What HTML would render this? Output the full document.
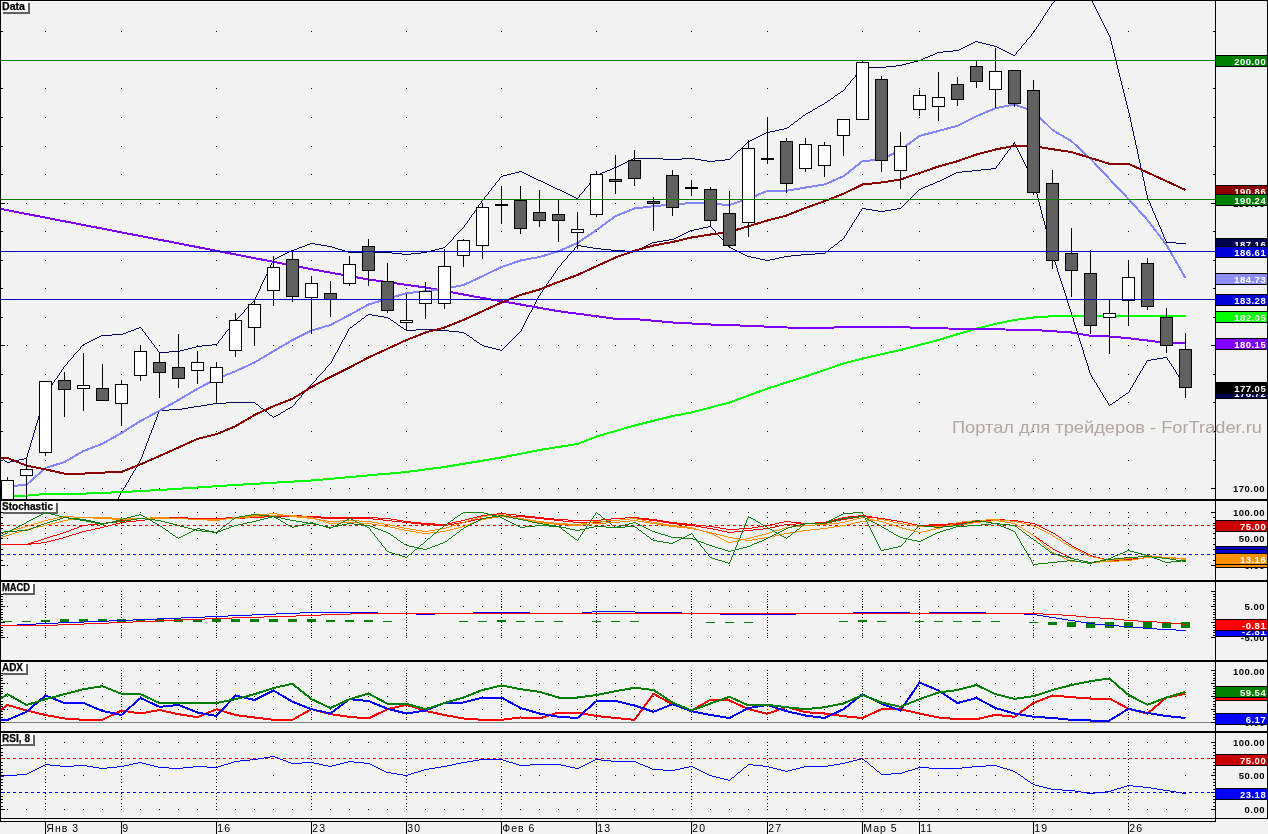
<!DOCTYPE html>
<html><head><meta charset="utf-8"><title>Chart</title>
<style>html,body{margin:0;padding:0;background:#f2f2f2;overflow:hidden}svg{display:block;will-change:transform}</style>
</head><body>
<svg width="1268" height="834" viewBox="0 0 1268 834" shape-rendering="crispEdges" text-rendering="optimizeLegibility">
<defs>
<clipPath id="cm"><rect x="1" y="1" width="1214" height="498"/></clipPath>
<clipPath id="cs"><rect x="1" y="501" width="1214" height="79"/></clipPath>
<clipPath id="cd"><rect x="1" y="582" width="1214" height="78"/></clipPath>
<clipPath id="ca"><rect x="1" y="662" width="1214" height="69"/></clipPath>
<clipPath id="cr"><rect x="1" y="733" width="1214" height="85"/></clipPath>
</defs>
<path d="M45 31.5h1M121 31.5h1M216 31.5h1M311 31.5h1M406 31.5h1M501 31.5h1M596 31.5h1M691 31.5h1M767 31.5h1M862 31.5h1M919 31.5h1M1033 31.5h1M1128 31.5h1M7 60.5h1M26 60.5h1M45 60.5h1M64 60.5h1M83 60.5h1M102 60.5h1M121 60.5h1M140 60.5h1M159 60.5h1M178 60.5h1M197 60.5h1M216 60.5h1M235 60.5h1M254 60.5h1M273 60.5h1M292 60.5h1M311 60.5h1M330 60.5h1M349 60.5h1M368 60.5h1M387 60.5h1M406 60.5h1M425 60.5h1M444 60.5h1M463 60.5h1M482 60.5h1M501 60.5h1M520 60.5h1M539 60.5h1M558 60.5h1M577 60.5h1M596 60.5h1M615 60.5h1M634 60.5h1M653 60.5h1M672 60.5h1M691 60.5h1M710 60.5h1M729 60.5h1M748 60.5h1M767 60.5h1M786 60.5h1M805 60.5h1M824 60.5h1M843 60.5h1M862 60.5h1M881 60.5h1M900 60.5h1M919 60.5h1M938 60.5h1M957 60.5h1M976 60.5h1M995 60.5h1M1014 60.5h1M1033 60.5h1M1052 60.5h1M1071 60.5h1M1090 60.5h1M1109 60.5h1M1128 60.5h1M1147 60.5h1M1166 60.5h1M1185 60.5h1M45 88.5h1M121 88.5h1M216 88.5h1M311 88.5h1M406 88.5h1M501 88.5h1M596 88.5h1M691 88.5h1M767 88.5h1M862 88.5h1M919 88.5h1M1033 88.5h1M1128 88.5h1M45 117.5h1M121 117.5h1M216 117.5h1M311 117.5h1M406 117.5h1M501 117.5h1M596 117.5h1M691 117.5h1M767 117.5h1M862 117.5h1M919 117.5h1M1033 117.5h1M1128 117.5h1M45 146.5h1M121 146.5h1M216 146.5h1M311 146.5h1M406 146.5h1M501 146.5h1M596 146.5h1M691 146.5h1M767 146.5h1M862 146.5h1M919 146.5h1M1033 146.5h1M1128 146.5h1M45 174.5h1M121 174.5h1M216 174.5h1M311 174.5h1M406 174.5h1M501 174.5h1M596 174.5h1M691 174.5h1M767 174.5h1M862 174.5h1M919 174.5h1M1033 174.5h1M1128 174.5h1M7 203.5h1M26 203.5h1M45 203.5h1M64 203.5h1M83 203.5h1M102 203.5h1M121 203.5h1M140 203.5h1M159 203.5h1M178 203.5h1M197 203.5h1M216 203.5h1M235 203.5h1M254 203.5h1M273 203.5h1M292 203.5h1M311 203.5h1M330 203.5h1M349 203.5h1M368 203.5h1M387 203.5h1M406 203.5h1M425 203.5h1M444 203.5h1M463 203.5h1M482 203.5h1M501 203.5h1M520 203.5h1M539 203.5h1M558 203.5h1M577 203.5h1M596 203.5h1M615 203.5h1M634 203.5h1M653 203.5h1M672 203.5h1M691 203.5h1M710 203.5h1M729 203.5h1M748 203.5h1M767 203.5h1M786 203.5h1M805 203.5h1M824 203.5h1M843 203.5h1M862 203.5h1M881 203.5h1M900 203.5h1M919 203.5h1M938 203.5h1M957 203.5h1M976 203.5h1M995 203.5h1M1014 203.5h1M1033 203.5h1M1052 203.5h1M1071 203.5h1M1090 203.5h1M1109 203.5h1M1128 203.5h1M1147 203.5h1M1166 203.5h1M1185 203.5h1M45 231.5h1M121 231.5h1M216 231.5h1M311 231.5h1M406 231.5h1M501 231.5h1M596 231.5h1M691 231.5h1M767 231.5h1M862 231.5h1M919 231.5h1M1033 231.5h1M1128 231.5h1M45 260.5h1M121 260.5h1M216 260.5h1M311 260.5h1M406 260.5h1M501 260.5h1M596 260.5h1M691 260.5h1M767 260.5h1M862 260.5h1M919 260.5h1M1033 260.5h1M1128 260.5h1M45 288.5h1M121 288.5h1M216 288.5h1M311 288.5h1M406 288.5h1M501 288.5h1M596 288.5h1M691 288.5h1M767 288.5h1M862 288.5h1M919 288.5h1M1033 288.5h1M1128 288.5h1M45 317.5h1M121 317.5h1M216 317.5h1M311 317.5h1M406 317.5h1M501 317.5h1M596 317.5h1M691 317.5h1M767 317.5h1M862 317.5h1M919 317.5h1M1033 317.5h1M1128 317.5h1M7 345.5h1M26 345.5h1M45 345.5h1M64 345.5h1M83 345.5h1M102 345.5h1M121 345.5h1M140 345.5h1M159 345.5h1M178 345.5h1M197 345.5h1M216 345.5h1M235 345.5h1M254 345.5h1M273 345.5h1M292 345.5h1M311 345.5h1M330 345.5h1M349 345.5h1M368 345.5h1M387 345.5h1M406 345.5h1M425 345.5h1M444 345.5h1M463 345.5h1M482 345.5h1M501 345.5h1M520 345.5h1M539 345.5h1M558 345.5h1M577 345.5h1M596 345.5h1M615 345.5h1M634 345.5h1M653 345.5h1M672 345.5h1M691 345.5h1M710 345.5h1M729 345.5h1M748 345.5h1M767 345.5h1M786 345.5h1M805 345.5h1M824 345.5h1M843 345.5h1M862 345.5h1M881 345.5h1M900 345.5h1M919 345.5h1M938 345.5h1M957 345.5h1M976 345.5h1M995 345.5h1M1014 345.5h1M1033 345.5h1M1052 345.5h1M1071 345.5h1M1090 345.5h1M1109 345.5h1M1128 345.5h1M1147 345.5h1M1166 345.5h1M1185 345.5h1M45 374.5h1M121 374.5h1M216 374.5h1M311 374.5h1M406 374.5h1M501 374.5h1M596 374.5h1M691 374.5h1M767 374.5h1M862 374.5h1M919 374.5h1M1033 374.5h1M1128 374.5h1M45 402.5h1M121 402.5h1M216 402.5h1M311 402.5h1M406 402.5h1M501 402.5h1M596 402.5h1M691 402.5h1M767 402.5h1M862 402.5h1M919 402.5h1M1033 402.5h1M1128 402.5h1M45 431.5h1M121 431.5h1M216 431.5h1M311 431.5h1M406 431.5h1M501 431.5h1M596 431.5h1M691 431.5h1M767 431.5h1M862 431.5h1M919 431.5h1M1033 431.5h1M1128 431.5h1M45 460.5h1M121 460.5h1M216 460.5h1M311 460.5h1M406 460.5h1M501 460.5h1M596 460.5h1M691 460.5h1M767 460.5h1M862 460.5h1M919 460.5h1M1033 460.5h1M1128 460.5h1M7 488.5h1M26 488.5h1M45 488.5h1M64 488.5h1M83 488.5h1M102 488.5h1M121 488.5h1M140 488.5h1M159 488.5h1M178 488.5h1M197 488.5h1M216 488.5h1M235 488.5h1M254 488.5h1M273 488.5h1M292 488.5h1M311 488.5h1M330 488.5h1M349 488.5h1M368 488.5h1M387 488.5h1M406 488.5h1M425 488.5h1M444 488.5h1M463 488.5h1M482 488.5h1M501 488.5h1M520 488.5h1M539 488.5h1M558 488.5h1M577 488.5h1M596 488.5h1M615 488.5h1M634 488.5h1M653 488.5h1M672 488.5h1M691 488.5h1M710 488.5h1M729 488.5h1M748 488.5h1M767 488.5h1M786 488.5h1M805 488.5h1M824 488.5h1M843 488.5h1M862 488.5h1M881 488.5h1M900 488.5h1M919 488.5h1M938 488.5h1M957 488.5h1M976 488.5h1M995 488.5h1M1014 488.5h1M1033 488.5h1M1052 488.5h1M1071 488.5h1M1090 488.5h1M1109 488.5h1M1128 488.5h1M1147 488.5h1M1166 488.5h1M1185 488.5h1" stroke="#000" stroke-width="1" fill="none"/>
<line x1="1" y1="31.5" x2="3" y2="31.5" stroke="#000" stroke-width="1"/>
<line x1="1213" y1="31.5" x2="1215" y2="31.5" stroke="#000" stroke-width="1"/>
<line x1="1" y1="60.5" x2="5" y2="60.5" stroke="#000" stroke-width="1"/>
<line x1="1211" y1="60.5" x2="1215" y2="60.5" stroke="#000" stroke-width="1"/>
<line x1="1" y1="88.5" x2="3" y2="88.5" stroke="#000" stroke-width="1"/>
<line x1="1213" y1="88.5" x2="1215" y2="88.5" stroke="#000" stroke-width="1"/>
<line x1="1" y1="117.5" x2="3" y2="117.5" stroke="#000" stroke-width="1"/>
<line x1="1213" y1="117.5" x2="1215" y2="117.5" stroke="#000" stroke-width="1"/>
<line x1="1" y1="146.5" x2="3" y2="146.5" stroke="#000" stroke-width="1"/>
<line x1="1213" y1="146.5" x2="1215" y2="146.5" stroke="#000" stroke-width="1"/>
<line x1="1" y1="174.5" x2="3" y2="174.5" stroke="#000" stroke-width="1"/>
<line x1="1213" y1="174.5" x2="1215" y2="174.5" stroke="#000" stroke-width="1"/>
<line x1="1" y1="203.5" x2="5" y2="203.5" stroke="#000" stroke-width="1"/>
<line x1="1211" y1="203.5" x2="1215" y2="203.5" stroke="#000" stroke-width="1"/>
<line x1="1" y1="231.5" x2="3" y2="231.5" stroke="#000" stroke-width="1"/>
<line x1="1213" y1="231.5" x2="1215" y2="231.5" stroke="#000" stroke-width="1"/>
<line x1="1" y1="260.5" x2="3" y2="260.5" stroke="#000" stroke-width="1"/>
<line x1="1213" y1="260.5" x2="1215" y2="260.5" stroke="#000" stroke-width="1"/>
<line x1="1" y1="288.5" x2="3" y2="288.5" stroke="#000" stroke-width="1"/>
<line x1="1213" y1="288.5" x2="1215" y2="288.5" stroke="#000" stroke-width="1"/>
<line x1="1" y1="317.5" x2="3" y2="317.5" stroke="#000" stroke-width="1"/>
<line x1="1213" y1="317.5" x2="1215" y2="317.5" stroke="#000" stroke-width="1"/>
<line x1="1" y1="345.5" x2="5" y2="345.5" stroke="#000" stroke-width="1"/>
<line x1="1211" y1="345.5" x2="1215" y2="345.5" stroke="#000" stroke-width="1"/>
<line x1="1" y1="374.5" x2="3" y2="374.5" stroke="#000" stroke-width="1"/>
<line x1="1213" y1="374.5" x2="1215" y2="374.5" stroke="#000" stroke-width="1"/>
<line x1="1" y1="402.5" x2="3" y2="402.5" stroke="#000" stroke-width="1"/>
<line x1="1213" y1="402.5" x2="1215" y2="402.5" stroke="#000" stroke-width="1"/>
<line x1="1" y1="431.5" x2="3" y2="431.5" stroke="#000" stroke-width="1"/>
<line x1="1213" y1="431.5" x2="1215" y2="431.5" stroke="#000" stroke-width="1"/>
<line x1="1" y1="460.5" x2="3" y2="460.5" stroke="#000" stroke-width="1"/>
<line x1="1213" y1="460.5" x2="1215" y2="460.5" stroke="#000" stroke-width="1"/>
<line x1="1" y1="488.5" x2="5" y2="488.5" stroke="#000" stroke-width="1"/>
<line x1="1211" y1="488.5" x2="1215" y2="488.5" stroke="#000" stroke-width="1"/>
<g clip-path="url(#cm)">
<path d="M1054 1.5h1M1092 1.5h1M1053 2.5h1M1092 2.5h1M1052 3.5h1M1093 3.5h1M1051 4.5h1M1093 4.5h1M1051 5.5h1M1094 5.5h1M1050 6.5h1M1094 6.5h1M1049 7.5h1M1095 7.5h1M1049 8.5h1M1095 8.5h1M1048 9.5h1M1096 9.5h1M1047 10.5h1M1096 10.5h1M1047 11.5h1M1097 11.5h1M1046 12.5h1M1097 12.5h1M1045 13.5h1M1098 13.5h1M1045 14.5h1M1098 14.5h1M1044 15.5h1M1099 15.5h1M1043 16.5h1M1099 16.5h1M1043 17.5h1M1100 17.5h1M1042 18.5h1M1100 18.5h1M1042 19.5h1M1101 19.5h1M1041 20.5h1M1101 20.5h1M1040 21.5h1M1102 21.5h1M1040 22.5h1M1102 22.5h1M1039 23.5h1M1103 23.5h1M1038 24.5h1M1103 24.5h1M1038 25.5h1M1104 25.5h1M1037 26.5h1M1104 26.5h1M1036 27.5h1M1105 27.5h1M1036 28.5h1M1105 28.5h1M1035 29.5h1M1106 29.5h1M1034 30.5h1M1106 30.5h1M1034 31.5h1M1107 31.5h1M1033 32.5h1M1107 32.5h1M1032 33.5h1M1108 33.5h1M1031 34.5h1M1108 34.5h1M1031 35.5h1M1109 35.5h1M1030 36.5h1M1109 36.5h1M1029 37.5h1M1110 37.5h1M1028 38.5h1M1110 38.5h1M1027 39.5h1M1110 39.5h1M1026 40.5h1M1110 40.5h1M975 41.5h3M1026 41.5h1M1111 41.5h1M973 42.5h2M978 42.5h4M1025 42.5h1M1111 42.5h1M971 43.5h2M982 43.5h4M1024 43.5h1M1111 43.5h1M969 44.5h2M986 44.5h4M1023 44.5h1M1111 44.5h1M967 45.5h2M990 45.5h4M1022 45.5h1M1112 45.5h1M965 46.5h2M994 46.5h3M1021 46.5h1M1112 46.5h1M963 47.5h2M997 47.5h2M1021 47.5h1M1112 47.5h1M961 48.5h2M999 48.5h2M1020 48.5h1M1112 48.5h1M959 49.5h2M1001 49.5h2M1019 49.5h1M1113 49.5h1M953 50.5h6M1003 50.5h2M1018 50.5h1M1113 50.5h1M943 51.5h10M1005 51.5h2M1017 51.5h1M1113 51.5h1M937 52.5h6M1007 52.5h2M1016 52.5h1M1113 52.5h1M935 53.5h2M1009 53.5h2M1016 53.5h1M1114 53.5h1M933 54.5h2M1011 54.5h2M1015 54.5h1M1114 54.5h1M930 55.5h3M1013 55.5h2M1114 55.5h1M928 56.5h2M1114 56.5h1M925 57.5h3M1115 57.5h1M923 58.5h2M1115 58.5h1M921 59.5h2M1115 59.5h1M918 60.5h3M1115 60.5h1M914 61.5h4M1116 61.5h1M910 62.5h4M1116 62.5h1M906 63.5h4M1116 63.5h1M902 64.5h4M1116 64.5h1M896 65.5h6M1117 65.5h1M886 66.5h10M1117 66.5h1M862 67.5h24M1117 67.5h1M861 68.5h1M1117 68.5h1M860 69.5h1M1118 69.5h1M860 70.5h1M1118 70.5h1M859 71.5h1M1118 71.5h1M858 72.5h1M1118 72.5h1M857 73.5h1M1119 73.5h1M856 74.5h1M1119 74.5h1M855 75.5h1M1119 75.5h1M855 76.5h1M1119 76.5h1M854 77.5h1M1120 77.5h1M853 78.5h1M1120 78.5h1M852 79.5h1M1120 79.5h1M851 80.5h1M1120 80.5h1M850 81.5h1M1121 81.5h1M850 82.5h1M1121 82.5h1M849 83.5h1M1121 83.5h1M848 84.5h1M1121 84.5h1M847 85.5h1M1122 85.5h1M846 86.5h1M1122 86.5h1M845 87.5h1M1122 87.5h1M845 88.5h1M1122 88.5h1M844 89.5h1M1123 89.5h1M843 90.5h1M1123 90.5h1M841 91.5h2M1123 91.5h1M840 92.5h1M1123 92.5h1M838 93.5h2M1124 93.5h1M837 94.5h1M1124 94.5h1M835 95.5h2M1124 95.5h1M834 96.5h1M1124 96.5h1M833 97.5h1M1125 97.5h1M831 98.5h2M1125 98.5h1M830 99.5h1M1125 99.5h1M828 100.5h2M1125 100.5h1M827 101.5h1M1126 101.5h1M825 102.5h2M1126 102.5h1M824 103.5h1M1126 103.5h1M822 104.5h2M1126 104.5h1M820 105.5h2M1127 105.5h1M818 106.5h2M1127 106.5h1M817 107.5h1M1127 107.5h1M815 108.5h2M1127 108.5h1M813 109.5h2M1128 109.5h1M812 110.5h1M1128 110.5h1M810 111.5h2M1128 111.5h1M808 112.5h2M1128 112.5h1M806 113.5h2M1129 113.5h1M805 114.5h1M1129 114.5h1M803 115.5h2M1129 115.5h1M802 116.5h1M1129 116.5h1M801 117.5h1M1130 117.5h1M799 118.5h2M1130 118.5h1M798 119.5h1M1130 119.5h1M797 120.5h1M1130 120.5h1M795 121.5h2M1130 121.5h1M794 122.5h1M1131 122.5h1M793 123.5h1M1131 123.5h1M791 124.5h2M1131 124.5h1M790 125.5h1M1131 125.5h1M789 126.5h1M1131 126.5h1M787 127.5h2M1132 127.5h1M784 128.5h3M1132 128.5h1M779 129.5h5M1132 129.5h1M775 130.5h4M1132 130.5h1M770 131.5h5M1133 131.5h1M766 132.5h4M1133 132.5h1M764 133.5h2M1133 133.5h1M762 134.5h2M1133 134.5h1M760 135.5h2M1133 135.5h1M758 136.5h2M1134 136.5h1M756 137.5h2M1134 137.5h1M754 138.5h2M1134 138.5h1M752 139.5h2M1134 139.5h1M750 140.5h2M1135 140.5h1M748 141.5h2M1135 141.5h1M747 142.5h1M1135 142.5h1M746 143.5h1M1135 143.5h1M745 144.5h1M1135 144.5h1M744 145.5h1M1136 145.5h1M743 146.5h1M1136 146.5h1M742 147.5h1M1136 147.5h1M741 148.5h1M1136 148.5h1M740 149.5h1M1137 149.5h1M738 150.5h2M1137 150.5h1M737 151.5h1M1137 151.5h1M736 152.5h1M1137 152.5h1M735 153.5h1M1137 153.5h1M734 154.5h1M1138 154.5h1M733 155.5h1M1138 155.5h1M732 156.5h1M1138 156.5h1M731 157.5h1M1138 157.5h1M633 158.5h30M682 158.5h13M730 158.5h1M1138 158.5h1M631 159.5h2M663 159.5h19M695 159.5h6M725 159.5h5M1139 159.5h1M629 160.5h2M701 160.5h6M715 160.5h10M1139 160.5h1M627 161.5h2M707 161.5h8M1139 161.5h1M625 162.5h2M1139 162.5h1M623 163.5h2M1140 163.5h1M621 164.5h2M1140 164.5h1M619 165.5h2M1140 165.5h1M617 166.5h2M1140 166.5h1M614 167.5h3M1140 167.5h1M612 168.5h2M1141 168.5h1M610 169.5h2M1141 169.5h1M607 170.5h3M1141 170.5h1M519 171.5h3M605 171.5h2M1141 171.5h1M515 172.5h4M522 172.5h2M602 172.5h3M1142 172.5h1M511 173.5h4M524 173.5h2M600 173.5h2M1142 173.5h1M507 174.5h4M526 174.5h2M598 174.5h2M1142 174.5h1M503 175.5h4M528 175.5h2M596 175.5h2M1142 175.5h1M501 176.5h2M530 176.5h2M595 176.5h1M1142 176.5h1M500 177.5h1M532 177.5h2M594 177.5h1M1143 177.5h1M499 178.5h1M534 178.5h2M594 178.5h1M1143 178.5h1M499 179.5h1M536 179.5h2M593 179.5h1M1143 179.5h1M498 180.5h1M538 180.5h3M592 180.5h1M1143 180.5h1M497 181.5h1M541 181.5h2M591 181.5h1M1144 181.5h1M496 182.5h1M543 182.5h2M590 182.5h1M1144 182.5h1M495 183.5h1M545 183.5h2M589 183.5h1M1144 183.5h1M495 184.5h1M547 184.5h2M589 184.5h1M1144 184.5h1M494 185.5h1M549 185.5h2M588 185.5h1M1144 185.5h1M493 186.5h1M551 186.5h2M587 186.5h1M1145 186.5h1M492 187.5h1M553 187.5h2M586 187.5h1M1145 187.5h1M491 188.5h1M555 188.5h2M585 188.5h1M1145 188.5h1M491 189.5h1M557 189.5h3M584 189.5h1M1145 189.5h1M490 190.5h1M560 190.5h2M584 190.5h1M1145 190.5h1M489 191.5h1M562 191.5h2M583 191.5h1M1146 191.5h1M488 192.5h1M564 192.5h2M582 192.5h1M1146 192.5h1M488 193.5h1M566 193.5h2M581 193.5h1M1146 193.5h1M487 194.5h1M568 194.5h2M580 194.5h1M1146 194.5h1M486 195.5h1M570 195.5h2M579 195.5h1M1147 195.5h1M485 196.5h1M572 196.5h2M579 196.5h1M1147 196.5h1M484 197.5h1M574 197.5h2M578 197.5h1M1147 197.5h1M484 198.5h1M576 198.5h2M1147 198.5h1M483 199.5h1M1148 199.5h1M482 200.5h1M1148 200.5h1M481 201.5h1M1149 201.5h1M481 202.5h1M1149 202.5h1M480 203.5h1M1150 203.5h1M479 204.5h1M1150 204.5h1M478 205.5h1M1150 205.5h1M478 206.5h1M1151 206.5h1M477 207.5h1M1151 207.5h1M476 208.5h1M1152 208.5h1M476 209.5h1M1152 209.5h1M475 210.5h1M1152 210.5h1M474 211.5h1M1153 211.5h1M474 212.5h1M1153 212.5h1M473 213.5h1M1154 213.5h1M472 214.5h1M1154 214.5h1M471 215.5h1M1155 215.5h1M471 216.5h1M1155 216.5h1M470 217.5h1M1155 217.5h1M469 218.5h1M1156 218.5h1M469 219.5h1M1156 219.5h1M468 220.5h1M1157 220.5h1M467 221.5h1M1157 221.5h1M467 222.5h1M1158 222.5h1M466 223.5h1M1158 223.5h1M465 224.5h1M1158 224.5h1M464 225.5h1M1159 225.5h1M464 226.5h1M1159 226.5h1M463 227.5h1M1160 227.5h1M462 228.5h1M1160 228.5h1M461 229.5h1M1161 229.5h1M460 230.5h1M1161 230.5h1M459 231.5h1M1161 231.5h1M458 232.5h1M1162 232.5h1M457 233.5h1M1162 233.5h1M456 234.5h1M1163 234.5h1M455 235.5h1M1163 235.5h1M454 236.5h1M1163 236.5h1M453 237.5h1M1164 237.5h1M453 238.5h1M1164 238.5h1M452 239.5h1M1165 239.5h1M451 240.5h1M1165 240.5h1M450 241.5h1M1166 241.5h1M449 242.5h1M1166 242.5h10M310 243.5h5M448 243.5h1M1176 243.5h10M307 244.5h3M315 244.5h6M447 244.5h1M305 245.5h2M321 245.5h6M446 245.5h1M302 246.5h3M327 246.5h5M445 246.5h1M299 247.5h3M332 247.5h3M443 247.5h2M297 248.5h2M335 248.5h3M439 248.5h4M294 249.5h3M338 249.5h4M435 249.5h4M291 250.5h3M342 250.5h3M431 250.5h4M289 251.5h2M345 251.5h3M427 251.5h4M287 252.5h2M348 252.5h44M421 252.5h6M285 253.5h2M392 253.5h10M411 253.5h10M283 254.5h2M402 254.5h9M281 255.5h2M279 256.5h2M277 257.5h2M275 258.5h2M273 259.5h2M273 260.5h1M272 261.5h1M272 262.5h1M271 263.5h1M271 264.5h1M270 265.5h1M270 266.5h1M269 267.5h1M269 268.5h1M268 269.5h1M268 270.5h1M267 271.5h1M267 272.5h1M267 273.5h1M266 274.5h1M266 275.5h1M265 276.5h1M265 277.5h1M264 278.5h1M264 279.5h1M263 280.5h1M263 281.5h1M262 282.5h1M262 283.5h1M261 284.5h1M261 285.5h1M260 286.5h1M260 287.5h1M260 288.5h1M259 289.5h1M259 290.5h1M258 291.5h1M258 292.5h1M257 293.5h1M257 294.5h1M256 295.5h1M256 296.5h1M255 297.5h1M255 298.5h1M254 299.5h1M254 300.5h1M253 301.5h1M252 302.5h1M251 303.5h1M250 304.5h1M249 305.5h1M248 306.5h1M247 307.5h1M246 308.5h1M245 309.5h1M244 310.5h1M244 311.5h1M243 312.5h1M242 313.5h1M241 314.5h1M240 315.5h1M239 316.5h1M238 317.5h1M237 318.5h1M236 319.5h1M235 320.5h1M234 321.5h1M233 322.5h1M233 323.5h1M232 324.5h1M231 325.5h1M230 326.5h1M139 327.5h2M229 327.5h1M136 328.5h3M141 328.5h1M229 328.5h1M134 329.5h2M142 329.5h1M228 329.5h1M131 330.5h3M142 330.5h1M227 330.5h1M128 331.5h3M143 331.5h1M226 331.5h1M126 332.5h2M144 332.5h1M225 332.5h1M123 333.5h3M145 333.5h1M225 333.5h1M112 334.5h11M145 334.5h1M224 334.5h1M101 335.5h11M146 335.5h1M223 335.5h1M99 336.5h2M147 336.5h1M222 336.5h1M97 337.5h2M148 337.5h1M222 337.5h1M95 338.5h2M148 338.5h1M221 338.5h1M93 339.5h2M149 339.5h1M220 339.5h1M91 340.5h2M150 340.5h1M219 340.5h1M89 341.5h2M151 341.5h1M218 341.5h1M87 342.5h2M151 342.5h1M218 342.5h1M85 343.5h2M152 343.5h1M217 343.5h1M83 344.5h2M153 344.5h1M212 344.5h5M82 345.5h1M154 345.5h1M202 345.5h10M81 346.5h1M154 346.5h1M196 346.5h6M80 347.5h1M155 347.5h1M192 347.5h4M80 348.5h1M156 348.5h1M188 348.5h4M79 349.5h1M157 349.5h1M184 349.5h4M78 350.5h1M157 350.5h1M180 350.5h4M77 351.5h1M158 351.5h1M169 351.5h11M76 352.5h1M159 352.5h10M75 353.5h1M74 354.5h1M73 355.5h1M73 356.5h1M72 357.5h1M71 358.5h1M70 359.5h1M69 360.5h1M68 361.5h1M67 362.5h1M67 363.5h1M66 364.5h1M65 365.5h1M64 366.5h1M63 367.5h1M63 368.5h1M62 369.5h1M61 370.5h1M61 371.5h1M60 372.5h1M59 373.5h1M59 374.5h1M58 375.5h1M57 376.5h1M57 377.5h1M56 378.5h1M55 379.5h1M54 380.5h1M54 381.5h1M53 382.5h1M52 383.5h1M52 384.5h1M51 385.5h1M50 386.5h1M50 387.5h1M49 388.5h1M48 389.5h1M48 390.5h1M47 391.5h1M46 392.5h1M46 393.5h1M45 394.5h1M45 395.5h1M44 396.5h1M44 397.5h1M44 398.5h1M44 399.5h1M43 400.5h1M43 401.5h1M43 402.5h1M42 403.5h1M42 404.5h1M42 405.5h1M41 406.5h1M41 407.5h1M41 408.5h1M41 409.5h1M40 410.5h1M40 411.5h1M40 412.5h1M39 413.5h1M39 414.5h1M39 415.5h1M38 416.5h1M38 417.5h1M38 418.5h1M38 419.5h1M37 420.5h1M37 421.5h1M37 422.5h1M36 423.5h1M36 424.5h1M36 425.5h1M35 426.5h1M35 427.5h1M35 428.5h1M35 429.5h1M34 430.5h1M34 431.5h1M34 432.5h1M33 433.5h1M33 434.5h1M33 435.5h1M33 436.5h1M32 437.5h1M32 438.5h1M32 439.5h1M31 440.5h1M31 441.5h1M31 442.5h1M30 443.5h1M30 444.5h1M30 445.5h1M30 446.5h1M29 447.5h1M29 448.5h1M29 449.5h1M28 450.5h1M28 451.5h1M28 452.5h1M27 453.5h1M27 454.5h1M27 455.5h1M27 456.5h1M26 457.5h1M1 458.5h2M24 458.5h3M3 459.5h1M19 459.5h5M4 460.5h1M15 460.5h4M5 461.5h2M10 461.5h5M7 462.5h3" stroke="#00005a" stroke-width="1" fill="none"/>
<path d="M1014 142.5h1M1013 143.5h2M1013 144.5h1M1015 144.5h1M1012 145.5h1M1015 145.5h1M1011 146.5h1M1016 146.5h1M1010 147.5h1M1016 147.5h1M1010 148.5h1M1017 148.5h1M1009 149.5h1M1017 149.5h1M1008 150.5h1M1018 150.5h1M1007 151.5h1M1018 151.5h1M1007 152.5h1M1019 152.5h1M1006 153.5h1M1019 153.5h1M1005 154.5h1M1020 154.5h1M1004 155.5h1M1020 155.5h1M1004 156.5h1M1021 156.5h1M1003 157.5h1M1021 157.5h1M1002 158.5h1M1022 158.5h1M1002 159.5h1M1022 159.5h1M1001 160.5h1M1023 160.5h1M1000 161.5h1M1023 161.5h1M999 162.5h1M1024 162.5h1M999 163.5h1M1024 163.5h1M998 164.5h1M1025 164.5h1M997 165.5h1M1025 165.5h1M996 166.5h1M1026 166.5h1M996 167.5h1M1026 167.5h1M991 168.5h5M1027 168.5h1M981 169.5h10M1027 169.5h1M972 170.5h9M1028 170.5h1M962 171.5h10M1028 171.5h1M956 172.5h6M1029 172.5h1M954 173.5h2M1029 173.5h1M952 174.5h2M1030 174.5h1M950 175.5h2M1030 175.5h1M948 176.5h2M1031 176.5h1M946 177.5h2M1031 177.5h1M944 178.5h2M1032 178.5h1M942 179.5h2M1032 179.5h1M940 180.5h2M1033 180.5h1M937 181.5h3M1033 181.5h1M935 182.5h2M1034 182.5h1M933 183.5h2M1034 183.5h1M930 184.5h3M1034 184.5h1M928 185.5h2M1034 185.5h1M925 186.5h3M1035 186.5h1M923 187.5h2M1035 187.5h1M921 188.5h2M1035 188.5h1M919 189.5h2M1035 189.5h1M918 190.5h1M1036 190.5h1M917 191.5h1M1036 191.5h1M916 192.5h1M1036 192.5h1M915 193.5h1M1036 193.5h1M914 194.5h1M1037 194.5h1M913 195.5h1M1037 195.5h1M912 196.5h1M1037 196.5h1M911 197.5h1M1037 197.5h1M910 198.5h1M1038 198.5h1M909 199.5h1M1038 199.5h1M908 200.5h1M1038 200.5h1M907 201.5h1M1038 201.5h1M906 202.5h1M1039 202.5h1M905 203.5h1M1039 203.5h1M904 204.5h1M1039 204.5h1M903 205.5h1M1039 205.5h1M902 206.5h1M1040 206.5h1M901 207.5h1M1040 207.5h1M862 208.5h4M897 208.5h4M1040 208.5h1M861 209.5h1M866 209.5h6M891 209.5h6M1040 209.5h1M861 210.5h1M872 210.5h6M885 210.5h6M1041 210.5h1M860 211.5h1M878 211.5h7M1041 211.5h1M859 212.5h1M1041 212.5h1M859 213.5h1M1041 213.5h1M858 214.5h1M1042 214.5h1M858 215.5h1M1042 215.5h1M857 216.5h1M1042 216.5h1M856 217.5h1M1042 217.5h1M856 218.5h1M1043 218.5h1M855 219.5h1M1043 219.5h1M854 220.5h1M1043 220.5h1M854 221.5h1M1044 221.5h1M853 222.5h1M1044 222.5h1M852 223.5h1M1044 223.5h1M852 224.5h1M1044 224.5h1M851 225.5h1M1045 225.5h1M708 226.5h3M851 226.5h1M1045 226.5h1M703 227.5h5M711 227.5h1M850 227.5h1M1045 227.5h1M699 228.5h4M712 228.5h1M849 228.5h1M1045 228.5h1M694 229.5h5M713 229.5h1M849 229.5h1M1046 229.5h1M690 230.5h4M714 230.5h1M848 230.5h1M1046 230.5h1M688 231.5h2M715 231.5h1M847 231.5h1M1046 231.5h1M686 232.5h2M715 232.5h1M847 232.5h1M1046 232.5h1M684 233.5h2M716 233.5h1M846 233.5h1M1047 233.5h1M682 234.5h2M717 234.5h1M846 234.5h1M1047 234.5h1M680 235.5h2M718 235.5h1M845 235.5h1M1047 235.5h1M678 236.5h2M719 236.5h1M844 236.5h1M1047 236.5h1M676 237.5h2M720 237.5h1M844 237.5h1M1048 237.5h1M674 238.5h2M721 238.5h1M843 238.5h1M1048 238.5h1M669 239.5h5M722 239.5h1M842 239.5h1M1048 239.5h1M663 240.5h6M723 240.5h1M840 240.5h2M1048 240.5h1M657 241.5h6M724 241.5h1M839 241.5h1M1049 241.5h1M652 242.5h5M724 242.5h1M838 242.5h1M1049 242.5h1M650 243.5h2M725 243.5h1M837 243.5h1M1049 243.5h1M648 244.5h2M726 244.5h1M835 244.5h2M1049 244.5h1M577 245.5h4M646 245.5h2M727 245.5h1M834 245.5h1M1050 245.5h1M576 246.5h1M581 246.5h6M644 246.5h2M728 246.5h1M833 246.5h1M1050 246.5h1M575 247.5h1M587 247.5h6M642 247.5h2M729 247.5h2M831 247.5h2M1050 247.5h1M574 248.5h1M593 248.5h8M640 248.5h2M731 248.5h2M830 248.5h1M1050 248.5h1M574 249.5h1M601 249.5h10M638 249.5h2M733 249.5h2M829 249.5h1M1051 249.5h1M573 250.5h1M611 250.5h14M636 250.5h2M735 250.5h2M828 250.5h1M1051 250.5h1M572 251.5h1M625 251.5h11M737 251.5h2M826 251.5h2M1051 251.5h1M571 252.5h1M739 252.5h2M825 252.5h1M1051 252.5h1M570 253.5h1M741 253.5h2M815 253.5h10M1052 253.5h1M569 254.5h1M743 254.5h2M801 254.5h14M1052 254.5h1M568 255.5h1M745 255.5h2M791 255.5h10M1052 255.5h1M567 256.5h1M747 256.5h4M784 256.5h7M1053 256.5h1M567 257.5h1M751 257.5h5M779 257.5h5M1053 257.5h1M566 258.5h1M756 258.5h4M775 258.5h4M1053 258.5h1M565 259.5h1M760 259.5h5M770 259.5h5M1054 259.5h1M564 260.5h1M765 260.5h5M1054 260.5h1M563 261.5h1M1054 261.5h1M562 262.5h1M1055 262.5h1M561 263.5h1M1055 263.5h1M561 264.5h1M1055 264.5h1M560 265.5h1M1056 265.5h1M559 266.5h1M1056 266.5h1M558 267.5h1M1056 267.5h1M557 268.5h1M1057 268.5h1M557 269.5h1M1057 269.5h1M556 270.5h1M1057 270.5h1M555 271.5h1M1057 271.5h1M555 272.5h1M1058 272.5h1M554 273.5h1M1058 273.5h1M553 274.5h1M1058 274.5h1M553 275.5h1M1059 275.5h1M552 276.5h1M1059 276.5h1M551 277.5h1M1059 277.5h1M551 278.5h1M1060 278.5h1M550 279.5h1M1060 279.5h1M549 280.5h1M1060 280.5h1M548 281.5h1M1061 281.5h1M548 282.5h1M1061 282.5h1M547 283.5h1M1061 283.5h1M546 284.5h1M1062 284.5h1M546 285.5h1M1062 285.5h1M545 286.5h1M1062 286.5h1M544 287.5h1M1063 287.5h1M544 288.5h1M1063 288.5h1M543 289.5h1M1063 289.5h1M542 290.5h1M1064 290.5h1M542 291.5h1M1064 291.5h1M541 292.5h1M1064 292.5h1M540 293.5h1M1065 293.5h1M540 294.5h1M1065 294.5h1M539 295.5h1M1065 295.5h1M538 296.5h1M1066 296.5h1M538 297.5h1M1066 297.5h1M537 298.5h1M1066 298.5h1M537 299.5h1M1066 299.5h1M536 300.5h1M1067 300.5h1M536 301.5h1M1067 301.5h1M535 302.5h1M1067 302.5h1M535 303.5h1M1068 303.5h1M534 304.5h1M1068 304.5h1M534 305.5h1M1068 305.5h1M533 306.5h1M1069 306.5h1M533 307.5h1M1069 307.5h1M532 308.5h1M1069 308.5h1M532 309.5h1M1070 309.5h1M531 310.5h1M1070 310.5h1M531 311.5h1M1070 311.5h1M530 312.5h1M1071 312.5h1M529 313.5h1M1071 313.5h1M368 314.5h4M529 314.5h1M1071 314.5h1M366 315.5h2M372 315.5h6M528 315.5h1M1072 315.5h1M365 316.5h1M378 316.5h6M528 316.5h1M1072 316.5h1M364 317.5h1M384 317.5h4M527 317.5h1M1072 317.5h1M362 318.5h2M388 318.5h2M527 318.5h1M1073 318.5h1M361 319.5h1M390 319.5h1M526 319.5h1M1073 319.5h1M360 320.5h1M391 320.5h2M526 320.5h1M1073 320.5h1M358 321.5h2M393 321.5h1M525 321.5h1M1073 321.5h1M357 322.5h1M394 322.5h2M525 322.5h1M1074 322.5h1M356 323.5h1M396 323.5h1M524 323.5h1M1074 323.5h1M354 324.5h2M397 324.5h1M524 324.5h1M1074 324.5h1M353 325.5h1M398 325.5h2M523 325.5h1M1075 325.5h1M352 326.5h1M400 326.5h1M523 326.5h1M1075 326.5h1M350 327.5h2M401 327.5h2M522 327.5h1M1075 327.5h1M349 328.5h1M403 328.5h1M522 328.5h1M1076 328.5h1M348 329.5h1M404 329.5h2M416 329.5h19M521 329.5h1M1076 329.5h1M348 330.5h1M406 330.5h10M435 330.5h14M521 330.5h1M1076 330.5h1M347 331.5h1M449 331.5h10M520 331.5h1M1077 331.5h1M347 332.5h1M459 332.5h5M519 332.5h1M1077 332.5h1M346 333.5h1M464 333.5h2M518 333.5h1M1077 333.5h1M346 334.5h1M466 334.5h1M517 334.5h1M1078 334.5h1M345 335.5h1M467 335.5h2M516 335.5h1M1078 335.5h1M345 336.5h1M469 336.5h1M515 336.5h1M1078 336.5h1M344 337.5h1M470 337.5h2M514 337.5h1M1078 337.5h1M344 338.5h1M472 338.5h1M513 338.5h1M1079 338.5h1M343 339.5h1M473 339.5h1M512 339.5h1M1079 339.5h1M342 340.5h1M474 340.5h2M511 340.5h1M1079 340.5h1M342 341.5h1M476 341.5h1M510 341.5h1M1080 341.5h1M341 342.5h1M477 342.5h2M509 342.5h1M1080 342.5h1M341 343.5h1M479 343.5h1M508 343.5h1M1080 343.5h1M340 344.5h1M480 344.5h2M507 344.5h1M1081 344.5h1M340 345.5h1M482 345.5h2M506 345.5h1M1081 345.5h1M339 346.5h1M484 346.5h4M505 346.5h1M1081 346.5h1M339 347.5h1M488 347.5h4M504 347.5h1M1082 347.5h1M338 348.5h1M492 348.5h4M503 348.5h1M1082 348.5h1M338 349.5h1M496 349.5h4M502 349.5h1M1082 349.5h1M337 350.5h1M500 350.5h2M1083 350.5h1M337 351.5h1M1083 351.5h1M336 352.5h1M1083 352.5h1M335 353.5h1M1083 353.5h1M335 354.5h1M1084 354.5h1M334 355.5h1M1084 355.5h1M334 356.5h1M1084 356.5h1M333 357.5h1M1085 357.5h1M1163 357.5h4M333 358.5h1M1085 358.5h1M1157 358.5h6M1167 358.5h1M332 359.5h1M1085 359.5h1M1151 359.5h6M1167 359.5h1M332 360.5h1M1086 360.5h1M1147 360.5h4M1168 360.5h1M331 361.5h1M1086 361.5h1M1146 361.5h1M1169 361.5h1M331 362.5h1M1086 362.5h1M1146 362.5h1M1169 362.5h1M330 363.5h1M1087 363.5h1M1145 363.5h1M1170 363.5h1M329 364.5h1M1087 364.5h1M1145 364.5h1M1171 364.5h1M328 365.5h1M1087 365.5h1M1144 365.5h1M1171 365.5h1M327 366.5h1M1088 366.5h1M1143 366.5h1M1172 366.5h1M326 367.5h1M1088 367.5h1M1143 367.5h1M1173 367.5h1M325 368.5h1M1088 368.5h1M1142 368.5h1M1173 368.5h1M325 369.5h1M1088 369.5h1M1142 369.5h1M1174 369.5h1M324 370.5h1M1089 370.5h1M1141 370.5h1M1175 370.5h1M323 371.5h1M1089 371.5h1M1140 371.5h1M1175 371.5h1M322 372.5h1M1089 372.5h1M1140 372.5h1M1176 372.5h1M321 373.5h1M1090 373.5h1M1139 373.5h1M1176 373.5h1M320 374.5h1M1090 374.5h1M1139 374.5h1M1177 374.5h1M319 375.5h1M1091 375.5h1M1138 375.5h1M1178 375.5h1M318 376.5h1M1091 376.5h1M1137 376.5h1M1178 376.5h1M317 377.5h1M1092 377.5h1M1137 377.5h1M1179 377.5h1M316 378.5h1M1092 378.5h1M1136 378.5h1M1180 378.5h1M316 379.5h1M1093 379.5h1M1136 379.5h1M1180 379.5h1M315 380.5h1M1094 380.5h1M1135 380.5h1M1181 380.5h1M314 381.5h1M1094 381.5h1M1135 381.5h1M1182 381.5h1M313 382.5h1M1095 382.5h1M1134 382.5h1M1182 382.5h1M312 383.5h1M1096 383.5h1M1133 383.5h1M1183 383.5h1M311 384.5h1M1096 384.5h1M1133 384.5h1M1184 384.5h1M310 385.5h1M1097 385.5h1M1132 385.5h1M1184 385.5h1M309 386.5h1M1097 386.5h1M1132 386.5h1M1185 386.5h1M308 387.5h1M1098 387.5h1M1131 387.5h1M308 388.5h1M1099 388.5h1M1130 388.5h1M307 389.5h1M1099 389.5h1M1130 389.5h1M306 390.5h1M1100 390.5h1M1129 390.5h1M305 391.5h1M1100 391.5h1M1129 391.5h1M304 392.5h1M1101 392.5h1M1128 392.5h1M303 393.5h1M1102 393.5h1M1126 393.5h2M302 394.5h1M1102 394.5h1M1125 394.5h1M301 395.5h1M1103 395.5h1M1123 395.5h2M301 396.5h1M1103 396.5h1M1122 396.5h1M300 397.5h1M1104 397.5h1M1120 397.5h2M299 398.5h1M1105 398.5h1M1119 398.5h1M298 399.5h1M1105 399.5h1M1118 399.5h1M297 400.5h1M1106 400.5h1M1116 400.5h2M296 401.5h1M1107 401.5h1M1115 401.5h1M226 402.5h29M295 402.5h1M1107 402.5h1M1113 402.5h2M213 403.5h13M255 403.5h1M295 403.5h1M1108 403.5h1M1112 403.5h1M207 404.5h6M256 404.5h2M294 404.5h1M1108 404.5h1M1110 404.5h2M201 405.5h6M258 405.5h1M293 405.5h1M1109 405.5h1M194 406.5h7M259 406.5h1M292 406.5h1M188 407.5h6M260 407.5h1M290 407.5h2M182 408.5h6M261 408.5h2M288 408.5h2M169 409.5h13M263 409.5h1M286 409.5h2M159 410.5h10M264 410.5h1M285 410.5h1M159 411.5h1M265 411.5h2M283 411.5h2M158 412.5h1M267 412.5h1M281 412.5h2M158 413.5h1M268 413.5h1M280 413.5h1M157 414.5h1M269 414.5h1M278 414.5h2M157 415.5h1M270 415.5h2M276 415.5h2M157 416.5h1M272 416.5h1M274 416.5h2M156 417.5h1M273 417.5h1M156 418.5h1M156 419.5h1M155 420.5h1M155 421.5h1M154 422.5h1M154 423.5h1M154 424.5h1M153 425.5h1M153 426.5h1M153 427.5h1M152 428.5h1M152 429.5h1M151 430.5h1M151 431.5h1M151 432.5h1M150 433.5h1M150 434.5h1M149 435.5h1M149 436.5h1M149 437.5h1M148 438.5h1M148 439.5h1M148 440.5h1M147 441.5h1M147 442.5h1M146 443.5h1M146 444.5h1M146 445.5h1M145 446.5h1M145 447.5h1M145 448.5h1M144 449.5h1M144 450.5h1M143 451.5h1M143 452.5h1M143 453.5h1M142 454.5h1M142 455.5h1M142 456.5h1M141 457.5h1M141 458.5h1M140 459.5h1M140 460.5h1M139 461.5h1M139 462.5h1M138 463.5h1M138 464.5h1M137 465.5h1M136 466.5h1M136 467.5h1M135 468.5h1M135 469.5h1M134 470.5h1M133 471.5h1M133 472.5h1M132 473.5h1M132 474.5h1M131 475.5h1M130 476.5h1M130 477.5h1M129 478.5h1M129 479.5h1M128 480.5h1M128 481.5h1M127 482.5h1M126 483.5h1M126 484.5h1M125 485.5h1M125 486.5h1M124 487.5h1M123 488.5h1M123 489.5h1M122 490.5h1M122 491.5h1M121 492.5h1M120 493.5h1M120 494.5h1M119 495.5h1M119 496.5h1M118 497.5h1M118 498.5h1" stroke="#00005a" stroke-width="1" fill="none"/>
<polyline points="14.0,496.2 26.5,495.6 45.5,494.0 83.5,493.6 121.5,492.1 159.5,490.0 216.5,486.2 254.5,483.8 311.5,480.5 406.5,472.0 444.5,467.0 501.5,457.5 539.5,450.0 577.5,444.0 596.5,436.5 634.5,425.5 672.5,416.0 691.5,412.5 729.5,402.5 767.5,388.5 805.5,376.5 843.5,363.5 862.5,358.5 900.5,350.0 938.5,340.0 957.5,334.2 976.5,328.8 995.5,323.8 1014.5,320.0 1033.5,317.5 1052.5,316.2 1071.5,316.0 1185.5,316.0" fill="none" stroke="#00ff00" stroke-width="2" />
<polyline points="0.0,208.8 311.5,269.2 368.5,279.5 425.5,287.5 482.5,298.0 520.5,304.5 558.5,311.2 596.5,316.2 615.5,318.8 634.5,319.0 672.5,322.5 710.5,324.5 748.5,325.8 786.5,327.5 824.5,328.0 843.5,327.0 900.5,327.0 919.5,328.0 976.5,329.0 1033.5,330.0 1052.5,331.2 1071.5,332.5 1090.5,335.8 1109.5,336.5 1128.5,338.2 1147.5,340.5 1166.5,343.0 1185.5,343.2" fill="none" stroke="#8000ff" stroke-width="2" />
<polyline points="14.0,485.8 26.5,484.8 45.5,468.0 64.5,462.0 83.5,451.0 102.5,443.7 121.5,433.0 140.5,421.0 159.5,410.7 178.5,400.0 197.5,388.8 216.5,378.8 235.5,371.2 254.5,362.5 273.5,351.2 292.5,340.0 311.5,330.5 330.5,325.0 349.5,315.0 368.5,304.5 387.5,298.8 406.5,293.2 425.5,291.2 444.5,288.8 463.5,285.0 482.5,276.2 501.5,267.0 520.5,260.5 539.5,257.0 558.5,251.2 577.5,243.0 596.5,230.0 615.5,216.2 634.5,208.5 653.5,206.2 672.5,204.5 691.5,203.0 710.5,203.8 729.5,205.0 748.5,198.8 767.5,190.8 786.5,190.8 805.5,187.5 824.5,184.5 843.5,176.2 862.5,161.2 881.5,159.5 900.5,150.0 919.5,135.8 938.5,131.0 957.5,125.8 976.5,116.2 995.5,108.2 1014.5,104.5 1033.5,111.2 1052.5,130.0 1071.5,141.2 1090.5,158.8 1109.5,179.0 1128.5,199.0 1147.5,220.0 1166.5,245.0 1185.5,278.0" fill="none" stroke="#8484ff" stroke-width="2" />
<polyline points="0.0,457.4 7.5,458.0 26.5,465.6 45.5,469.4 64.5,473.6 83.5,473.6 102.5,472.6 121.5,471.9 140.5,464.4 159.5,456.0 178.5,447.5 197.5,438.8 216.5,434.2 235.5,426.2 254.5,415.0 273.5,406.2 292.5,398.8 311.5,387.0 330.5,377.0 349.5,367.5 368.5,357.5 387.5,348.8 406.5,340.0 425.5,332.5 444.5,327.5 463.5,320.0 482.5,311.2 501.5,302.5 520.5,295.0 539.5,289.5 558.5,282.0 577.5,275.0 596.5,266.2 615.5,257.5 634.5,250.8 653.5,245.5 672.5,242.0 691.5,237.5 710.5,234.5 729.5,232.0 748.5,226.2 767.5,220.5 786.5,215.5 805.5,208.0 824.5,201.2 843.5,193.8 862.5,184.5 881.5,182.5 900.5,179.5 919.5,173.0 938.5,166.5 957.5,161.2 976.5,154.5 995.5,149.5 1014.5,145.8 1033.5,146.2 1052.5,149.2 1071.5,152.0 1090.5,158.0 1109.5,163.8 1128.5,163.8 1147.5,172.5 1166.5,181.2 1185.5,190.0" fill="none" stroke="#8b0000" stroke-width="2" />
<line x1="7.5" y1="477" x2="7.5" y2="500" stroke="#000" stroke-width="1"/>
<rect x="1.5" y="480.5" width="12" height="19" fill="#fff" stroke="#000" stroke-width="1"/>
<line x1="26.5" y1="458" x2="26.5" y2="500" stroke="#000" stroke-width="1"/>
<rect x="20.5" y="469.5" width="12" height="6" fill="#fff" stroke="#000" stroke-width="1"/>
<line x1="45.5" y1="381" x2="45.5" y2="456" stroke="#000" stroke-width="1"/>
<rect x="39.5" y="381.5" width="12" height="71" fill="#fff" stroke="#000" stroke-width="1"/>
<line x1="64.5" y1="372" x2="64.5" y2="417" stroke="#000" stroke-width="1"/>
<rect x="58.5" y="380.5" width="12" height="9" fill="#606060" stroke="#000" stroke-width="1"/>
<line x1="83.5" y1="353" x2="83.5" y2="411" stroke="#000" stroke-width="1"/>
<rect x="77.5" y="385.5" width="12" height="3" fill="#fff" stroke="#000" stroke-width="1"/>
<line x1="102.5" y1="364" x2="102.5" y2="401" stroke="#000" stroke-width="1"/>
<rect x="96.5" y="388.5" width="12" height="12" fill="#606060" stroke="#000" stroke-width="1"/>
<line x1="121.5" y1="380" x2="121.5" y2="426" stroke="#000" stroke-width="1"/>
<rect x="115.5" y="384.5" width="12" height="19" fill="#fff" stroke="#000" stroke-width="1"/>
<line x1="140.5" y1="345" x2="140.5" y2="381" stroke="#000" stroke-width="1"/>
<rect x="134.5" y="351.5" width="12" height="24" fill="#fff" stroke="#000" stroke-width="1"/>
<line x1="159.5" y1="353" x2="159.5" y2="398" stroke="#000" stroke-width="1"/>
<rect x="153.5" y="362.5" width="12" height="10" fill="#606060" stroke="#000" stroke-width="1"/>
<line x1="178.5" y1="334" x2="178.5" y2="388" stroke="#000" stroke-width="1"/>
<rect x="172.5" y="367.5" width="12" height="11" fill="#606060" stroke="#000" stroke-width="1"/>
<line x1="197.5" y1="351" x2="197.5" y2="384" stroke="#000" stroke-width="1"/>
<rect x="191.5" y="362.5" width="12" height="8" fill="#fff" stroke="#000" stroke-width="1"/>
<line x1="216.5" y1="362" x2="216.5" y2="404" stroke="#000" stroke-width="1"/>
<rect x="210.5" y="367.5" width="12" height="15" fill="#fff" stroke="#000" stroke-width="1"/>
<line x1="235.5" y1="313" x2="235.5" y2="357" stroke="#000" stroke-width="1"/>
<rect x="229.5" y="320.5" width="12" height="30" fill="#fff" stroke="#000" stroke-width="1"/>
<line x1="254.5" y1="300" x2="254.5" y2="346" stroke="#000" stroke-width="1"/>
<rect x="248.5" y="304.5" width="12" height="23" fill="#fff" stroke="#000" stroke-width="1"/>
<line x1="273.5" y1="256" x2="273.5" y2="306" stroke="#000" stroke-width="1"/>
<rect x="267.5" y="267.5" width="12" height="23" fill="#fff" stroke="#000" stroke-width="1"/>
<line x1="292.5" y1="251" x2="292.5" y2="302" stroke="#000" stroke-width="1"/>
<rect x="286.5" y="259.5" width="12" height="37" fill="#606060" stroke="#000" stroke-width="1"/>
<line x1="311.5" y1="276" x2="311.5" y2="334" stroke="#000" stroke-width="1"/>
<rect x="305.5" y="283.5" width="12" height="14" fill="#fff" stroke="#000" stroke-width="1"/>
<line x1="330.5" y1="281" x2="330.5" y2="317" stroke="#000" stroke-width="1"/>
<rect x="324.5" y="293.5" width="12" height="6" fill="#606060" stroke="#000" stroke-width="1"/>
<line x1="349.5" y1="256" x2="349.5" y2="286" stroke="#000" stroke-width="1"/>
<rect x="343.5" y="264.5" width="12" height="19" fill="#fff" stroke="#000" stroke-width="1"/>
<line x1="368.5" y1="239" x2="368.5" y2="286" stroke="#000" stroke-width="1"/>
<rect x="362.5" y="246.5" width="12" height="24" fill="#606060" stroke="#000" stroke-width="1"/>
<line x1="387.5" y1="263" x2="387.5" y2="313" stroke="#000" stroke-width="1"/>
<rect x="381.5" y="281.5" width="12" height="29" fill="#606060" stroke="#000" stroke-width="1"/>
<line x1="406.5" y1="294" x2="406.5" y2="331" stroke="#000" stroke-width="1"/>
<rect x="400.5" y="320.5" width="12" height="2" fill="#fff" stroke="#000" stroke-width="1"/>
<line x1="425.5" y1="282" x2="425.5" y2="319" stroke="#000" stroke-width="1"/>
<rect x="419.5" y="291.5" width="12" height="12" fill="#fff" stroke="#000" stroke-width="1"/>
<line x1="444.5" y1="249" x2="444.5" y2="309" stroke="#000" stroke-width="1"/>
<rect x="438.5" y="266.5" width="12" height="37" fill="#fff" stroke="#000" stroke-width="1"/>
<line x1="463.5" y1="239" x2="463.5" y2="267" stroke="#000" stroke-width="1"/>
<rect x="457.5" y="240.5" width="12" height="15" fill="#fff" stroke="#000" stroke-width="1"/>
<line x1="482.5" y1="203" x2="482.5" y2="259" stroke="#000" stroke-width="1"/>
<rect x="476.5" y="207.5" width="12" height="38" fill="#fff" stroke="#000" stroke-width="1"/>
<line x1="501.5" y1="186" x2="501.5" y2="224" stroke="#000" stroke-width="1"/>
<rect x="495" y="204" width="13" height="2" fill="#000" />
<line x1="520.5" y1="186" x2="520.5" y2="234" stroke="#000" stroke-width="1"/>
<rect x="514.5" y="200.5" width="12" height="28" fill="#606060" stroke="#000" stroke-width="1"/>
<line x1="539.5" y1="190" x2="539.5" y2="227" stroke="#000" stroke-width="1"/>
<rect x="533.5" y="212.5" width="12" height="8" fill="#606060" stroke="#000" stroke-width="1"/>
<line x1="558.5" y1="200" x2="558.5" y2="242" stroke="#000" stroke-width="1"/>
<rect x="552.5" y="214.5" width="12" height="6" fill="#606060" stroke="#000" stroke-width="1"/>
<line x1="577.5" y1="212" x2="577.5" y2="249" stroke="#000" stroke-width="1"/>
<rect x="571.5" y="229.5" width="12" height="3" fill="#fff" stroke="#000" stroke-width="1"/>
<line x1="596.5" y1="171" x2="596.5" y2="217" stroke="#000" stroke-width="1"/>
<rect x="590.5" y="174.5" width="12" height="40" fill="#fff" stroke="#000" stroke-width="1"/>
<line x1="615.5" y1="155" x2="615.5" y2="194" stroke="#000" stroke-width="1"/>
<rect x="609.5" y="179.5" width="12" height="2" fill="#606060" stroke="#000" stroke-width="1"/>
<line x1="634.5" y1="150" x2="634.5" y2="186" stroke="#000" stroke-width="1"/>
<rect x="628.5" y="160.5" width="12" height="18" fill="#606060" stroke="#000" stroke-width="1"/>
<line x1="653.5" y1="197" x2="653.5" y2="231" stroke="#000" stroke-width="1"/>
<rect x="647.5" y="201.5" width="12" height="2" fill="#606060" stroke="#000" stroke-width="1"/>
<line x1="672.5" y1="170" x2="672.5" y2="216" stroke="#000" stroke-width="1"/>
<rect x="666.5" y="175.5" width="12" height="32" fill="#606060" stroke="#000" stroke-width="1"/>
<line x1="691.5" y1="180" x2="691.5" y2="196" stroke="#000" stroke-width="1"/>
<rect x="685" y="187" width="13" height="2" fill="#000" />
<line x1="710.5" y1="187" x2="710.5" y2="226" stroke="#000" stroke-width="1"/>
<rect x="704.5" y="189.5" width="12" height="31" fill="#606060" stroke="#000" stroke-width="1"/>
<line x1="729.5" y1="191" x2="729.5" y2="248" stroke="#000" stroke-width="1"/>
<rect x="723.5" y="213.5" width="12" height="32" fill="#606060" stroke="#000" stroke-width="1"/>
<line x1="748.5" y1="140" x2="748.5" y2="237" stroke="#000" stroke-width="1"/>
<rect x="742.5" y="148.5" width="12" height="74" fill="#fff" stroke="#000" stroke-width="1"/>
<line x1="767.5" y1="117" x2="767.5" y2="164" stroke="#000" stroke-width="1"/>
<rect x="761" y="158" width="13" height="2" fill="#000" />
<line x1="786.5" y1="138" x2="786.5" y2="193" stroke="#000" stroke-width="1"/>
<rect x="780.5" y="141.5" width="12" height="42" fill="#606060" stroke="#000" stroke-width="1"/>
<line x1="805.5" y1="138" x2="805.5" y2="172" stroke="#000" stroke-width="1"/>
<rect x="799.5" y="144.5" width="12" height="24" fill="#fff" stroke="#000" stroke-width="1"/>
<line x1="824.5" y1="142" x2="824.5" y2="177" stroke="#000" stroke-width="1"/>
<rect x="818.5" y="145.5" width="12" height="20" fill="#fff" stroke="#000" stroke-width="1"/>
<line x1="843.5" y1="119" x2="843.5" y2="156" stroke="#000" stroke-width="1"/>
<rect x="837.5" y="119.5" width="12" height="16" fill="#fff" stroke="#000" stroke-width="1"/>
<line x1="862.5" y1="61" x2="862.5" y2="120" stroke="#000" stroke-width="1"/>
<rect x="856.5" y="62.5" width="12" height="57" fill="#fff" stroke="#000" stroke-width="1"/>
<line x1="881.5" y1="76" x2="881.5" y2="172" stroke="#000" stroke-width="1"/>
<rect x="875.5" y="79.5" width="12" height="81" fill="#606060" stroke="#000" stroke-width="1"/>
<line x1="900.5" y1="132" x2="900.5" y2="189" stroke="#000" stroke-width="1"/>
<rect x="894.5" y="146.5" width="12" height="24" fill="#fff" stroke="#000" stroke-width="1"/>
<line x1="919.5" y1="90" x2="919.5" y2="116" stroke="#000" stroke-width="1"/>
<rect x="913.5" y="95.5" width="12" height="14" fill="#fff" stroke="#000" stroke-width="1"/>
<line x1="938.5" y1="72" x2="938.5" y2="121" stroke="#000" stroke-width="1"/>
<rect x="932.5" y="97.5" width="12" height="9" fill="#fff" stroke="#000" stroke-width="1"/>
<line x1="957.5" y1="77" x2="957.5" y2="106" stroke="#000" stroke-width="1"/>
<rect x="951.5" y="84.5" width="12" height="15" fill="#606060" stroke="#000" stroke-width="1"/>
<line x1="976.5" y1="60" x2="976.5" y2="88" stroke="#000" stroke-width="1"/>
<rect x="970.5" y="66.5" width="12" height="15" fill="#606060" stroke="#000" stroke-width="1"/>
<line x1="995.5" y1="48" x2="995.5" y2="108" stroke="#000" stroke-width="1"/>
<rect x="989.5" y="71.5" width="12" height="18" fill="#fff" stroke="#000" stroke-width="1"/>
<line x1="1014.5" y1="70" x2="1014.5" y2="107" stroke="#000" stroke-width="1"/>
<rect x="1008.5" y="70.5" width="12" height="33" fill="#606060" stroke="#000" stroke-width="1"/>
<line x1="1033.5" y1="80" x2="1033.5" y2="195" stroke="#000" stroke-width="1"/>
<rect x="1027.5" y="90.5" width="12" height="102" fill="#606060" stroke="#000" stroke-width="1"/>
<line x1="1052.5" y1="170" x2="1052.5" y2="269" stroke="#000" stroke-width="1"/>
<rect x="1046.5" y="183.5" width="12" height="77" fill="#606060" stroke="#000" stroke-width="1"/>
<line x1="1071.5" y1="228" x2="1071.5" y2="297" stroke="#000" stroke-width="1"/>
<rect x="1065.5" y="253.5" width="12" height="17" fill="#606060" stroke="#000" stroke-width="1"/>
<line x1="1090.5" y1="250" x2="1090.5" y2="334" stroke="#000" stroke-width="1"/>
<rect x="1084.5" y="273.5" width="12" height="52" fill="#606060" stroke="#000" stroke-width="1"/>
<line x1="1109.5" y1="299" x2="1109.5" y2="354" stroke="#000" stroke-width="1"/>
<rect x="1103.5" y="313.5" width="12" height="4" fill="#fff" stroke="#000" stroke-width="1"/>
<line x1="1128.5" y1="260" x2="1128.5" y2="326" stroke="#000" stroke-width="1"/>
<rect x="1122.5" y="277.5" width="12" height="23" fill="#fff" stroke="#000" stroke-width="1"/>
<line x1="1147.5" y1="258" x2="1147.5" y2="310" stroke="#000" stroke-width="1"/>
<rect x="1141.5" y="263.5" width="12" height="43" fill="#606060" stroke="#000" stroke-width="1"/>
<line x1="1166.5" y1="308" x2="1166.5" y2="353" stroke="#000" stroke-width="1"/>
<rect x="1160.5" y="317.5" width="12" height="28" fill="#606060" stroke="#000" stroke-width="1"/>
<line x1="1185.5" y1="333" x2="1185.5" y2="398" stroke="#000" stroke-width="1"/>
<rect x="1179.5" y="349.5" width="12" height="38" fill="#606060" stroke="#000" stroke-width="1"/>
<line x1="1" y1="60.5" x2="1215" y2="60.5" stroke="#008000" stroke-width="1"/>
<line x1="1" y1="199.5" x2="1215" y2="199.5" stroke="#008000" stroke-width="1"/>
<line x1="1" y1="251.5" x2="1215" y2="251.5" stroke="#0000c8" stroke-width="1"/>
<line x1="1" y1="299.5" x2="1215" y2="299.5" stroke="#0000c8" stroke-width="1"/>
</g>
<path d="M7 512.5h1M7 565.5h1M26 512.5h1M26 565.5h1M45 512.5h1M45 565.5h1M64 512.5h1M64 565.5h1M83 512.5h1M83 565.5h1M102 512.5h1M102 565.5h1M121 512.5h1M121 565.5h1M140 512.5h1M140 565.5h1M159 512.5h1M159 565.5h1M178 512.5h1M178 565.5h1M197 512.5h1M197 565.5h1M216 512.5h1M216 565.5h1M235 512.5h1M235 565.5h1M254 512.5h1M254 565.5h1M273 512.5h1M273 565.5h1M292 512.5h1M292 565.5h1M311 512.5h1M311 565.5h1M330 512.5h1M330 565.5h1M349 512.5h1M349 565.5h1M368 512.5h1M368 565.5h1M387 512.5h1M387 565.5h1M406 512.5h1M406 565.5h1M425 512.5h1M425 565.5h1M444 512.5h1M444 565.5h1M463 512.5h1M463 565.5h1M482 512.5h1M482 565.5h1M501 512.5h1M501 565.5h1M520 512.5h1M520 565.5h1M539 512.5h1M539 565.5h1M558 512.5h1M558 565.5h1M577 512.5h1M577 565.5h1M596 512.5h1M596 565.5h1M615 512.5h1M615 565.5h1M634 512.5h1M634 565.5h1M653 512.5h1M653 565.5h1M672 512.5h1M672 565.5h1M691 512.5h1M691 565.5h1M710 512.5h1M710 565.5h1M729 512.5h1M729 565.5h1M748 512.5h1M748 565.5h1M767 512.5h1M767 565.5h1M786 512.5h1M786 565.5h1M805 512.5h1M805 565.5h1M824 512.5h1M824 565.5h1M843 512.5h1M843 565.5h1M862 512.5h1M862 565.5h1M881 512.5h1M881 565.5h1M900 512.5h1M900 565.5h1M919 512.5h1M919 565.5h1M938 512.5h1M938 565.5h1M957 512.5h1M957 565.5h1M976 512.5h1M976 565.5h1M995 512.5h1M995 565.5h1M1014 512.5h1M1014 565.5h1M1033 512.5h1M1033 565.5h1M1052 512.5h1M1052 565.5h1M1071 512.5h1M1071 565.5h1M1090 512.5h1M1090 565.5h1M1109 512.5h1M1109 565.5h1M1128 512.5h1M1128 565.5h1M1147 512.5h1M1147 565.5h1M1166 512.5h1M1166 565.5h1M1185 512.5h1M1185 565.5h1M7 538.5h1M83 538.5h1M159 538.5h1M197 538.5h1M273 538.5h1M425 538.5h1M520 538.5h1M539 538.5h1M615 538.5h1M634 538.5h1M653 538.5h1M748 538.5h1M843 538.5h1M938 538.5h1M957 538.5h1M976 538.5h1M995 538.5h1M1071 538.5h1M1090 538.5h1M1109 538.5h1M1185 538.5h1M45 517.5h1M45 523.5h1M45 528.5h1M45 533.5h1M45 544.5h1M45 549.5h1M45 554.5h1M45 560.5h1M121 517.5h1M121 523.5h1M121 528.5h1M121 533.5h1M121 544.5h1M121 549.5h1M121 554.5h1M121 560.5h1M216 517.5h1M216 523.5h1M216 528.5h1M216 533.5h1M216 544.5h1M216 549.5h1M216 554.5h1M216 560.5h1M311 517.5h1M311 523.5h1M311 528.5h1M311 533.5h1M311 544.5h1M311 549.5h1M311 554.5h1M311 560.5h1M406 517.5h1M406 523.5h1M406 528.5h1M406 533.5h1M406 544.5h1M406 549.5h1M406 554.5h1M406 560.5h1M501 517.5h1M501 523.5h1M501 528.5h1M501 533.5h1M501 544.5h1M501 549.5h1M501 554.5h1M501 560.5h1M596 517.5h1M596 523.5h1M596 528.5h1M596 533.5h1M596 544.5h1M596 549.5h1M596 554.5h1M596 560.5h1M691 517.5h1M691 523.5h1M691 528.5h1M691 533.5h1M691 544.5h1M691 549.5h1M691 554.5h1M691 560.5h1M767 517.5h1M767 523.5h1M767 528.5h1M767 533.5h1M767 544.5h1M767 549.5h1M767 554.5h1M767 560.5h1M862 517.5h1M862 523.5h1M862 528.5h1M862 533.5h1M862 544.5h1M862 549.5h1M862 554.5h1M862 560.5h1M919 517.5h1M919 523.5h1M919 528.5h1M919 533.5h1M919 544.5h1M919 549.5h1M919 554.5h1M919 560.5h1M1033 517.5h1M1033 523.5h1M1033 528.5h1M1033 533.5h1M1033 544.5h1M1033 549.5h1M1033 554.5h1M1033 560.5h1M1128 517.5h1M1128 523.5h1M1128 528.5h1M1128 533.5h1M1128 544.5h1M1128 549.5h1M1128 554.5h1M1128 560.5h1" stroke="#000" stroke-width="1" fill="none"/>
<line x1="1211" y1="512.5" x2="1215" y2="512.5" stroke="#000" stroke-width="1"/>
<line x1="1" y1="512.5" x2="5" y2="512.5" stroke="#000" stroke-width="1"/>
<line x1="1213" y1="517.5" x2="1215" y2="517.5" stroke="#000" stroke-width="1"/>
<line x1="1" y1="517.5" x2="3" y2="517.5" stroke="#000" stroke-width="1"/>
<line x1="1213" y1="523.5" x2="1215" y2="523.5" stroke="#000" stroke-width="1"/>
<line x1="1" y1="523.5" x2="3" y2="523.5" stroke="#000" stroke-width="1"/>
<line x1="1213" y1="528.5" x2="1215" y2="528.5" stroke="#000" stroke-width="1"/>
<line x1="1" y1="528.5" x2="3" y2="528.5" stroke="#000" stroke-width="1"/>
<line x1="1213" y1="533.5" x2="1215" y2="533.5" stroke="#000" stroke-width="1"/>
<line x1="1" y1="533.5" x2="3" y2="533.5" stroke="#000" stroke-width="1"/>
<line x1="1213" y1="538.5" x2="1215" y2="538.5" stroke="#000" stroke-width="1"/>
<line x1="1" y1="538.5" x2="3" y2="538.5" stroke="#000" stroke-width="1"/>
<line x1="1213" y1="544.5" x2="1215" y2="544.5" stroke="#000" stroke-width="1"/>
<line x1="1" y1="544.5" x2="3" y2="544.5" stroke="#000" stroke-width="1"/>
<line x1="1213" y1="549.5" x2="1215" y2="549.5" stroke="#000" stroke-width="1"/>
<line x1="1" y1="549.5" x2="3" y2="549.5" stroke="#000" stroke-width="1"/>
<line x1="1213" y1="554.5" x2="1215" y2="554.5" stroke="#000" stroke-width="1"/>
<line x1="1" y1="554.5" x2="3" y2="554.5" stroke="#000" stroke-width="1"/>
<line x1="1213" y1="560.5" x2="1215" y2="560.5" stroke="#000" stroke-width="1"/>
<line x1="1" y1="560.5" x2="3" y2="560.5" stroke="#000" stroke-width="1"/>
<line x1="1211" y1="565.5" x2="1215" y2="565.5" stroke="#000" stroke-width="1"/>
<line x1="1" y1="565.5" x2="5" y2="565.5" stroke="#000" stroke-width="1"/>
<rect x="3" y="503" width="55" height="11" fill="#606060" />
<rect x="1" y="501" width="55" height="11" fill="#fff" />
<text x="2" y="510" font-size="10" font-weight="bold" stroke="#000" stroke-width="0.25" font-family="Liberation Sans, sans-serif" fill="#000" textLength="51" lengthAdjust="spacingAndGlyphs">Stochastic</text>
<g clip-path="url(#cs)">
<line x1="1" y1="525.5" x2="1215" y2="525.5" stroke="#d00000" stroke-width="1" stroke-dasharray="3 3"/>
<line x1="1" y1="554.5" x2="1215" y2="554.5" stroke="#0000d0" stroke-width="1" stroke-dasharray="3 3"/>
<path d="M498 515.5h13M264 516.5h38M492 516.5h6M511 516.5h14M859 516.5h8M245 517.5h19M302 517.5h19M486 517.5h6M525 517.5h10M853 517.5h6M867 517.5h10M155 518.5h33M226 518.5h19M321 518.5h52M480 518.5h6M535 518.5h9M630 518.5h9M847 518.5h6M877 518.5h8M145 519.5h10M188 519.5h38M373 519.5h10M475 519.5h5M544 519.5h10M620 519.5h10M639 519.5h10M841 519.5h6M885 519.5h6M136 520.5h9M383 520.5h9M471 520.5h4M554 520.5h9M611 520.5h9M649 520.5h8M836 520.5h5M891 520.5h6M991 520.5h8M126 521.5h10M392 521.5h10M466 521.5h5M563 521.5h10M601 521.5h10M657 521.5h6M832 521.5h4M897 521.5h6M981 521.5h10M999 521.5h6M120 522.5h6M402 522.5h9M460 522.5h6M573 522.5h28M663 522.5h6M827 522.5h5M903 522.5h5M972 522.5h9M1005 522.5h6M116 523.5h4M411 523.5h10M454 523.5h6M669 523.5h8M796 523.5h31M908 523.5h4M962 523.5h10M1011 523.5h4M112 524.5h4M421 524.5h14M448 524.5h6M677 524.5h10M784 524.5h12M912 524.5h5M948 524.5h14M1015 524.5h2M108 525.5h4M435 525.5h13M687 525.5h8M779 525.5h5M917 525.5h31M1017 525.5h1M104 526.5h4M695 526.5h6M775 526.5h4M1018 526.5h2M100 527.5h4M701 527.5h6M770 527.5h5M1020 527.5h2M95 528.5h5M707 528.5h6M763 528.5h7M1022 528.5h1M91 529.5h4M713 529.5h5M753 529.5h10M1023 529.5h2M86 530.5h5M718 530.5h4M744 530.5h9M1025 530.5h1M82 531.5h4M722 531.5h5M734 531.5h10M1026 531.5h2M79 532.5h3M727 532.5h7M1028 532.5h2M76 533.5h3M1030 533.5h1M72 534.5h4M1031 534.5h2M69 535.5h3M1033 535.5h1M66 536.5h3M1034 536.5h2M63 537.5h3M1036 537.5h1M59 538.5h4M1037 538.5h2M55 539.5h4M1039 539.5h1M51 540.5h4M1040 540.5h2M47 541.5h4M1042 541.5h1M41 542.5h6M1043 542.5h1M31 543.5h10M1044 543.5h2M1 544.5h30M1046 544.5h1M1047 545.5h2M1049 546.5h1M1050 547.5h2M1052 548.5h1M1053 549.5h2M1055 550.5h2M1057 551.5h2M1059 552.5h2M1061 553.5h2M1063 554.5h2M1065 555.5h2M1067 556.5h2M1069 557.5h2M1143 557.5h28M1071 558.5h3M1133 558.5h10M1171 558.5h10M1074 559.5h5M1124 559.5h9M1181 559.5h5M1079 560.5h4M1114 560.5h10M1083 561.5h5M1100 561.5h14M1088 562.5h12" stroke="#ff0000" stroke-width="1" fill="none"/>
<path d="M497 513.5h9M487 514.5h10M506 514.5h10M264 515.5h38M481 515.5h6M516 515.5h9M858 515.5h8M245 516.5h19M302 516.5h19M477 516.5h4M525 516.5h10M848 516.5h10M866 516.5h6M150 517.5h38M226 517.5h19M321 517.5h57M473 517.5h4M535 517.5h9M625 517.5h14M842 517.5h6M872 517.5h6M136 518.5h14M188 518.5h38M378 518.5h13M469 518.5h4M544 518.5h10M611 518.5h14M639 518.5h10M838 518.5h4M878 518.5h7M126 519.5h10M391 519.5h6M465 519.5h4M554 519.5h14M601 519.5h10M649 519.5h8M834 519.5h4M885 519.5h6M991 519.5h14M118 520.5h8M397 520.5h6M461 520.5h4M568 520.5h33M657 520.5h6M830 520.5h4M891 520.5h6M981 520.5h10M1005 520.5h13M112 521.5h6M403 521.5h8M456 521.5h5M663 521.5h6M784 521.5h7M826 521.5h4M897 521.5h6M972 521.5h9M1018 521.5h6M106 522.5h6M411 522.5h10M452 522.5h4M669 522.5h8M779 522.5h5M791 522.5h10M815 522.5h11M903 522.5h5M962 522.5h10M1024 522.5h6M98 523.5h8M421 523.5h14M447 523.5h5M677 523.5h10M775 523.5h4M801 523.5h14M908 523.5h4M948 523.5h14M1030 523.5h5M88 524.5h10M435 524.5h12M687 524.5h9M770 524.5h5M912 524.5h5M929 524.5h19M1035 524.5h2M82 525.5h6M696 525.5h10M764 525.5h6M917 525.5h12M1037 525.5h2M79 526.5h3M706 526.5h8M758 526.5h6M1039 526.5h2M77 527.5h2M714 527.5h6M752 527.5h6M1041 527.5h2M74 528.5h3M720 528.5h6M739 528.5h13M1043 528.5h2M71 529.5h3M726 529.5h13M1045 529.5h2M69 530.5h2M1047 530.5h2M66 531.5h3M1049 531.5h2M63 532.5h3M1051 532.5h2M60 533.5h3M1053 533.5h2M57 534.5h3M1055 534.5h1M53 535.5h4M1056 535.5h2M50 536.5h3M1058 536.5h1M47 537.5h3M1059 537.5h2M44 538.5h3M1061 538.5h1M41 539.5h3M1062 539.5h1M38 540.5h3M1063 540.5h2M34 541.5h4M1065 541.5h1M31 542.5h3M1066 542.5h2M28 543.5h3M1068 543.5h1M1 544.5h27M1069 544.5h2M1071 545.5h1M1072 546.5h2M1074 547.5h2M1076 548.5h2M1078 549.5h2M1080 550.5h2M1082 551.5h2M1084 552.5h2M1086 553.5h2M1088 554.5h2M1090 555.5h2M1144 555.5h8M1092 556.5h4M1138 556.5h6M1152 556.5h10M1096 557.5h4M1132 557.5h6M1162 557.5h9M1100 558.5h4M1124 558.5h8M1171 558.5h10M1104 559.5h4M1114 559.5h10M1181 559.5h5M1108 560.5h6" stroke="#ff0000" stroke-width="1" fill="none"/>
<path d="M264 515.5h33M250 516.5h14M297 516.5h10M498 516.5h8M80 517.5h13M240 517.5h10M307 517.5h6M492 517.5h6M506 517.5h10M74 518.5h6M93 518.5h19M131 518.5h57M226 518.5h14M313 518.5h3M486 518.5h6M516 518.5h7M68 519.5h6M112 519.5h19M188 519.5h38M316 519.5h3M481 519.5h5M523 519.5h5M877 519.5h7M63 520.5h5M319 520.5h4M478 520.5h3M528 520.5h4M630 520.5h8M867 520.5h10M884 520.5h5M991 520.5h8M59 521.5h4M323 521.5h3M476 521.5h2M532 521.5h5M620 521.5h10M638 521.5h6M860 521.5h7M889 521.5h4M981 521.5h10M999 521.5h6M55 522.5h4M326 522.5h3M340 522.5h19M473 522.5h3M537 522.5h7M606 522.5h14M644 522.5h6M855 522.5h5M893 522.5h5M973 522.5h8M1005 522.5h6M51 523.5h4M329 523.5h11M359 523.5h13M470 523.5h3M544 523.5h10M592 523.5h14M650 523.5h7M851 523.5h4M898 523.5h6M967 523.5h6M1011 523.5h4M47 524.5h4M372 524.5h6M468 524.5h2M554 524.5h14M582 524.5h10M657 524.5h6M846 524.5h5M904 524.5h6M961 524.5h6M1015 524.5h2M43 525.5h4M378 525.5h6M465 525.5h3M568 525.5h14M663 525.5h6M840 525.5h6M910 525.5h6M948 525.5h13M1017 525.5h1M38 526.5h5M384 526.5h6M462 526.5h3M669 526.5h8M834 526.5h6M916 526.5h32M1018 526.5h2M34 527.5h4M390 527.5h5M458 527.5h4M677 527.5h10M828 527.5h6M1020 527.5h2M29 528.5h5M395 528.5h4M454 528.5h4M687 528.5h7M820 528.5h8M1022 528.5h1M25 529.5h4M399 529.5h5M450 529.5h4M694 529.5h5M810 529.5h10M1023 529.5h2M22 530.5h3M404 530.5h6M446 530.5h4M699 530.5h4M802 530.5h8M1025 530.5h1M19 531.5h3M410 531.5h6M440 531.5h6M703 531.5h5M796 531.5h6M1026 531.5h2M15 532.5h4M416 532.5h6M430 532.5h10M708 532.5h4M790 532.5h6M1028 532.5h2M12 533.5h3M422 533.5h8M712 533.5h4M784 533.5h6M1030 533.5h1M9 534.5h3M716 534.5h4M779 534.5h5M1031 534.5h2M6 535.5h3M720 535.5h4M775 535.5h4M1033 535.5h1M2 536.5h4M724 536.5h4M770 536.5h5M1034 536.5h1M1 537.5h1M728 537.5h5M764 537.5h6M1035 537.5h1M733 538.5h6M758 538.5h6M1036 538.5h1M739 539.5h6M752 539.5h6M1037 539.5h2M745 540.5h7M1039 540.5h1M1040 541.5h1M1041 542.5h1M1042 543.5h1M1043 544.5h1M1044 545.5h1M1045 546.5h1M1046 547.5h1M1047 548.5h2M1049 549.5h1M1050 550.5h1M1051 551.5h1M1052 552.5h2M1054 553.5h2M1056 554.5h2M1058 555.5h2M1060 556.5h2M1062 557.5h2M1144 557.5h32M1064 558.5h2M1138 558.5h6M1176 558.5h10M1066 559.5h2M1132 559.5h6M1068 560.5h2M1119 560.5h13M1070 561.5h11M1100 561.5h19M1081 562.5h19" stroke="#ff9000" stroke-width="1" fill="none"/>
<path d="M269 513.5h8M259 514.5h10M277 514.5h6M497 514.5h7M250 515.5h9M283 515.5h6M487 515.5h10M504 515.5h5M62 516.5h12M240 516.5h10M289 516.5h8M481 516.5h6M509 516.5h4M57 517.5h5M74 517.5h38M150 517.5h19M232 517.5h8M297 517.5h10M478 517.5h3M513 517.5h5M861 517.5h4M53 518.5h4M112 518.5h38M169 518.5h19M226 518.5h6M307 518.5h8M475 518.5h3M518 518.5h6M630 518.5h7M857 518.5h4M865 518.5h5M48 519.5h5M188 519.5h19M220 519.5h6M315 519.5h6M471 519.5h4M524 519.5h6M620 519.5h10M637 519.5h5M853 519.5h4M870 519.5h4M986 519.5h14M44 520.5h4M207 520.5h13M321 520.5h6M340 520.5h19M468 520.5h3M530 520.5h6M606 520.5h14M642 520.5h4M849 520.5h4M874 520.5h5M972 520.5h14M1000 520.5h10M41 521.5h3M327 521.5h13M359 521.5h13M465 521.5h3M536 521.5h8M593 521.5h13M646 521.5h5M845 521.5h4M879 521.5h4M962 521.5h10M1010 521.5h7M38 522.5h3M372 522.5h6M462 522.5h3M544 522.5h10M587 522.5h6M651 522.5h6M839 522.5h6M883 522.5h3M956 522.5h6M1017 522.5h5M34 523.5h4M378 523.5h6M459 523.5h3M554 523.5h14M581 523.5h6M657 523.5h6M829 523.5h10M886 523.5h3M953 523.5h3M1022 523.5h4M31 524.5h3M384 524.5h6M456 524.5h3M568 524.5h13M663 524.5h6M815 524.5h14M889 524.5h4M950 524.5h3M1026 524.5h5M28 525.5h3M390 525.5h5M452 525.5h4M669 525.5h8M801 525.5h14M893 525.5h3M946 525.5h4M1031 525.5h3M25 526.5h3M395 526.5h4M449 526.5h3M677 526.5h10M791 526.5h10M896 526.5h3M943 526.5h3M1034 526.5h2M21 527.5h4M399 527.5h5M446 527.5h3M687 527.5h6M785 527.5h6M899 527.5h3M940 527.5h3M1036 527.5h2M17 528.5h4M404 528.5h6M441 528.5h5M693 528.5h3M782 528.5h3M902 528.5h4M936 528.5h4M1038 528.5h2M13 529.5h4M410 529.5h6M435 529.5h6M696 529.5h3M779 529.5h3M906 529.5h4M931 529.5h5M1040 529.5h2M9 530.5h4M416 530.5h6M429 530.5h6M699 530.5h4M775 530.5h4M910 530.5h4M927 530.5h4M1042 530.5h2M6 531.5h3M422 531.5h7M703 531.5h3M772 531.5h3M914 531.5h4M922 531.5h5M1044 531.5h2M2 532.5h4M706 532.5h3M769 532.5h3M918 532.5h4M1046 532.5h2M1 533.5h1M709 533.5h3M766 533.5h3M1048 533.5h2M712 534.5h2M762 534.5h4M1050 534.5h2M714 535.5h2M758 535.5h4M1052 535.5h1M716 536.5h2M754 536.5h4M1053 536.5h2M718 537.5h2M750 537.5h4M1055 537.5h1M720 538.5h2M746 538.5h4M1056 538.5h2M722 539.5h2M741 539.5h5M1058 539.5h2M724 540.5h2M737 540.5h4M1060 540.5h1M726 541.5h2M732 541.5h5M1061 541.5h2M728 542.5h4M1063 542.5h1M1064 543.5h2M1066 544.5h2M1068 545.5h1M1069 546.5h2M1071 547.5h2M1073 548.5h2M1075 549.5h2M1077 550.5h2M1079 551.5h2M1081 552.5h2M1083 553.5h2M1085 554.5h2M1087 555.5h2M1144 555.5h8M1089 556.5h4M1138 556.5h6M1152 556.5h10M1093 557.5h5M1132 557.5h6M1162 557.5h9M1098 558.5h4M1124 558.5h8M1171 558.5h10M1102 559.5h5M1114 559.5h10M1181 559.5h5M1107 560.5h7" stroke="#ff9000" stroke-width="1" fill="none"/>
<path d="M498 515.5h6M272 516.5h4M492 516.5h6M504 516.5h5M858 516.5h5M63 517.5h6M268 517.5h4M276 517.5h5M486 517.5h6M509 517.5h4M848 517.5h10M863 517.5h2M60 518.5h3M69 518.5h10M137 518.5h8M264 518.5h4M281 518.5h4M482 518.5h4M513 518.5h5M842 518.5h6M865 518.5h2M57 519.5h3M79 519.5h7M131 519.5h6M145 519.5h10M260 519.5h4M285 519.5h5M480 519.5h2M518 519.5h5M838 519.5h4M867 519.5h2M53 520.5h4M86 520.5h5M125 520.5h6M155 520.5h6M256 520.5h4M290 520.5h6M478 520.5h2M523 520.5h5M834 520.5h4M869 520.5h2M50 521.5h3M91 521.5h4M117 521.5h8M161 521.5h4M252 521.5h4M296 521.5h6M476 521.5h2M528 521.5h4M830 521.5h4M871 521.5h2M47 522.5h3M95 522.5h5M107 522.5h10M165 522.5h4M247 522.5h5M302 522.5h6M474 522.5h2M532 522.5h5M633 522.5h3M826 522.5h4M873 522.5h2M44 523.5h3M100 523.5h7M169 523.5h4M243 523.5h4M308 523.5h6M347 523.5h7M472 523.5h2M537 523.5h6M629 523.5h4M636 523.5h2M804 523.5h22M875 523.5h2M991 523.5h9M41 524.5h3M173 524.5h4M238 524.5h5M314 524.5h5M342 524.5h5M354 524.5h10M470 524.5h2M543 524.5h6M625 524.5h4M638 524.5h2M800 524.5h4M877 524.5h2M981 524.5h10M1000 524.5h10M39 525.5h2M177 525.5h3M234 525.5h4M319 525.5h4M338 525.5h4M364 525.5h6M468 525.5h2M549 525.5h6M621 525.5h4M640 525.5h2M796 525.5h4M879 525.5h2M967 525.5h14M1010 525.5h5M36 526.5h3M180 526.5h4M231 526.5h3M323 526.5h5M333 526.5h5M370 526.5h3M466 526.5h2M555 526.5h6M594 526.5h12M617 526.5h4M642 526.5h2M792 526.5h4M881 526.5h1M956 526.5h11M1015 526.5h2M33 527.5h3M184 527.5h4M229 527.5h2M328 527.5h5M373 527.5h2M464 527.5h2M561 527.5h5M589 527.5h5M606 527.5h11M644 527.5h2M788 527.5h4M882 527.5h2M953 527.5h3M1017 527.5h1M31 528.5h2M188 528.5h4M226 528.5h3M375 528.5h3M463 528.5h1M566 528.5h4M585 528.5h4M646 528.5h2M786 528.5h2M884 528.5h2M950 528.5h3M1018 528.5h1M28 529.5h3M192 529.5h4M223 529.5h3M378 529.5h3M461 529.5h2M570 529.5h5M580 529.5h5M648 529.5h2M784 529.5h2M886 529.5h2M946 529.5h4M1019 529.5h2M17 530.5h11M196 530.5h6M221 530.5h2M381 530.5h2M460 530.5h1M575 530.5h5M650 530.5h2M782 530.5h2M888 530.5h1M943 530.5h3M1021 530.5h1M4 531.5h13M202 531.5h10M218 531.5h3M383 531.5h3M459 531.5h1M652 531.5h3M780 531.5h2M889 531.5h2M940 531.5h3M1022 531.5h1M1 532.5h3M212 532.5h6M386 532.5h2M457 532.5h2M655 532.5h3M778 532.5h2M891 532.5h2M937 532.5h3M1023 532.5h2M388 533.5h2M456 533.5h1M658 533.5h3M776 533.5h2M893 533.5h1M935 533.5h2M1025 533.5h1M390 534.5h1M455 534.5h1M661 534.5h4M774 534.5h2M894 534.5h2M933 534.5h2M1026 534.5h1M391 535.5h2M453 535.5h2M665 535.5h3M772 535.5h2M896 535.5h2M931 535.5h2M1027 535.5h2M393 536.5h1M452 536.5h1M668 536.5h3M770 536.5h2M898 536.5h2M929 536.5h2M1029 536.5h1M394 537.5h2M451 537.5h1M671 537.5h11M768 537.5h2M900 537.5h3M927 537.5h2M1030 537.5h1M396 538.5h1M449 538.5h2M682 538.5h11M766 538.5h2M903 538.5h5M925 538.5h2M1031 538.5h2M397 539.5h1M448 539.5h1M693 539.5h3M764 539.5h2M908 539.5h4M923 539.5h2M1033 539.5h1M398 540.5h2M447 540.5h1M696 540.5h2M762 540.5h2M912 540.5h5M921 540.5h2M1034 540.5h2M400 541.5h1M445 541.5h2M698 541.5h3M759 541.5h3M917 541.5h4M1036 541.5h1M401 542.5h2M443 542.5h2M701 542.5h3M757 542.5h2M1037 542.5h1M403 543.5h1M440 543.5h3M704 543.5h2M754 543.5h3M1038 543.5h2M404 544.5h2M438 544.5h2M706 544.5h3M752 544.5h2M1040 544.5h1M406 545.5h3M435 545.5h3M709 545.5h3M750 545.5h2M1041 545.5h1M409 546.5h5M432 546.5h3M712 546.5h3M747 546.5h3M1042 546.5h2M414 547.5h4M430 547.5h2M715 547.5h3M743 547.5h4M1044 547.5h1M418 548.5h5M427 548.5h3M718 548.5h4M739 548.5h4M1045 548.5h1M423 549.5h4M722 549.5h3M735 549.5h4M1046 549.5h2M725 550.5h3M731 550.5h4M1048 550.5h1M728 551.5h3M1049 551.5h1M1050 552.5h2M1052 553.5h2M1054 554.5h4M1058 555.5h4M1062 556.5h4M1138 556.5h14M1066 557.5h4M1124 557.5h14M1152 557.5h10M1070 558.5h4M1114 558.5h10M1162 558.5h8M1074 559.5h5M1106 559.5h8M1170 559.5h6M1079 560.5h4M1100 560.5h6M1176 560.5h6M1083 561.5h5M1094 561.5h6M1182 561.5h4M1088 562.5h6" stroke="#108010" stroke-width="1" fill="none"/>
<path d="M45 512.5h2M463 512.5h21M596 512.5h1M853 512.5h10M43 513.5h2M47 513.5h4M461 513.5h2M484 513.5h4M595 513.5h1M597 513.5h1M843 513.5h10M862 513.5h1M41 514.5h2M51 514.5h4M139 514.5h2M251 514.5h8M460 514.5h1M488 514.5h4M595 514.5h1M598 514.5h2M841 514.5h2M863 514.5h1M39 515.5h2M55 515.5h4M135 515.5h4M141 515.5h2M245 515.5h6M259 515.5h10M458 515.5h2M492 515.5h4M594 515.5h1M600 515.5h1M839 515.5h2M863 515.5h1M37 516.5h2M59 516.5h4M131 516.5h4M143 516.5h2M239 516.5h6M269 516.5h5M457 516.5h1M496 516.5h4M593 516.5h1M601 516.5h1M748 516.5h1M837 516.5h2M864 516.5h1M35 517.5h2M63 517.5h5M127 517.5h4M145 517.5h2M235 517.5h4M274 517.5h2M455 517.5h2M500 517.5h2M593 517.5h1M602 517.5h1M748 517.5h3M835 517.5h2M864 517.5h1M33 518.5h2M68 518.5h6M123 518.5h4M147 518.5h1M234 518.5h1M276 518.5h2M349 518.5h2M454 518.5h1M502 518.5h2M592 518.5h1M603 518.5h2M747 518.5h1M751 518.5h2M833 518.5h2M865 518.5h1M31 519.5h2M74 519.5h6M120 519.5h3M148 519.5h2M232 519.5h2M278 519.5h2M347 519.5h2M351 519.5h2M453 519.5h1M504 519.5h2M591 519.5h1M605 519.5h1M747 519.5h1M753 519.5h2M831 519.5h2M865 519.5h1M29 520.5h2M80 520.5h6M116 520.5h4M150 520.5h2M231 520.5h1M280 520.5h1M345 520.5h2M353 520.5h2M451 520.5h2M506 520.5h2M591 520.5h1M606 520.5h1M746 520.5h1M755 520.5h1M829 520.5h2M866 520.5h1M975 520.5h5M27 521.5h2M86 521.5h5M112 521.5h4M152 521.5h1M230 521.5h1M281 521.5h2M343 521.5h2M355 521.5h2M450 521.5h1M508 521.5h2M590 521.5h1M607 521.5h2M746 521.5h1M756 521.5h2M827 521.5h2M866 521.5h1M971 521.5h4M980 521.5h6M26 522.5h1M91 522.5h4M108 522.5h4M153 522.5h2M229 522.5h1M283 522.5h2M310 522.5h3M341 522.5h2M357 522.5h2M448 522.5h2M510 522.5h2M589 522.5h1M609 522.5h1M746 522.5h1M758 522.5h2M825 522.5h2M867 522.5h1M967 522.5h4M986 522.5h6M24 523.5h2M95 523.5h5M104 523.5h4M155 523.5h2M227 523.5h2M285 523.5h1M306 523.5h4M313 523.5h3M339 523.5h2M359 523.5h2M447 523.5h1M512 523.5h2M589 523.5h1M610 523.5h1M745 523.5h1M760 523.5h1M805 523.5h20M867 523.5h1M963 523.5h4M992 523.5h5M22 524.5h2M100 524.5h4M157 524.5h2M226 524.5h1M286 524.5h2M302 524.5h4M316 524.5h3M337 524.5h2M361 524.5h2M445 524.5h2M514 524.5h2M588 524.5h1M611 524.5h1M745 524.5h1M761 524.5h2M804 524.5h1M868 524.5h1M959 524.5h4M997 524.5h2M20 525.5h2M159 525.5h1M225 525.5h1M288 525.5h2M298 525.5h4M319 525.5h4M335 525.5h2M363 525.5h2M444 525.5h1M516 525.5h2M535 525.5h14M587 525.5h1M612 525.5h2M744 525.5h1M763 525.5h2M802 525.5h2M868 525.5h1M919 525.5h5M953 525.5h6M999 525.5h2M18 526.5h2M160 526.5h2M223 526.5h2M290 526.5h2M294 526.5h4M323 526.5h3M333 526.5h2M365 526.5h2M443 526.5h1M518 526.5h2M525 526.5h10M549 526.5h10M586 526.5h1M614 526.5h1M625 526.5h10M744 526.5h1M765 526.5h2M801 526.5h1M869 526.5h1M918 526.5h1M924 526.5h10M943 526.5h10M1001 526.5h3M16 527.5h2M162 527.5h1M222 527.5h1M292 527.5h2M326 527.5h3M331 527.5h2M367 527.5h2M442 527.5h1M520 527.5h5M559 527.5h2M586 527.5h1M615 527.5h10M635 527.5h2M744 527.5h1M767 527.5h1M800 527.5h1M869 527.5h1M917 527.5h1M934 527.5h9M1004 527.5h2M14 528.5h2M163 528.5h2M197 528.5h3M221 528.5h1M329 528.5h2M369 528.5h1M440 528.5h2M561 528.5h1M585 528.5h1M637 528.5h1M743 528.5h1M768 528.5h2M799 528.5h1M870 528.5h1M916 528.5h1M1006 528.5h3M12 529.5h2M165 529.5h1M195 529.5h2M200 529.5h5M220 529.5h1M370 529.5h1M439 529.5h1M562 529.5h1M584 529.5h1M638 529.5h1M743 529.5h1M770 529.5h2M797 529.5h2M870 529.5h1M915 529.5h1M1009 529.5h2M10 530.5h2M166 530.5h2M193 530.5h2M205 530.5h4M218 530.5h2M370 530.5h1M438 530.5h1M563 530.5h2M584 530.5h1M639 530.5h2M742 530.5h1M772 530.5h2M796 530.5h1M871 530.5h1M914 530.5h1M1011 530.5h2M8 531.5h2M168 531.5h1M191 531.5h2M209 531.5h5M217 531.5h1M371 531.5h1M437 531.5h1M565 531.5h1M583 531.5h1M641 531.5h1M742 531.5h1M774 531.5h1M795 531.5h1M871 531.5h1M914 531.5h1M1013 531.5h2M7 532.5h1M169 532.5h1M189 532.5h2M214 532.5h3M372 532.5h1M436 532.5h1M566 532.5h1M582 532.5h1M642 532.5h1M742 532.5h1M775 532.5h2M793 532.5h2M872 532.5h1M913 532.5h1M1015 532.5h1M5 533.5h2M170 533.5h2M187 533.5h2M373 533.5h1M434 533.5h2M567 533.5h2M582 533.5h1M643 533.5h2M691 533.5h1M741 533.5h1M777 533.5h2M792 533.5h1M872 533.5h1M912 533.5h1M1015 533.5h1M3 534.5h2M172 534.5h1M185 534.5h2M374 534.5h1M433 534.5h1M569 534.5h1M581 534.5h1M645 534.5h1M689 534.5h2M692 534.5h1M741 534.5h1M779 534.5h1M791 534.5h1M873 534.5h1M911 534.5h1M1016 534.5h1M1 535.5h2M173 535.5h2M183 535.5h2M374 535.5h1M432 535.5h1M570 535.5h1M580 535.5h1M646 535.5h1M687 535.5h2M693 535.5h1M740 535.5h1M780 535.5h2M790 535.5h1M873 535.5h1M910 535.5h1M1016 535.5h1M175 536.5h1M181 536.5h2M375 536.5h1M431 536.5h1M571 536.5h2M580 536.5h1M647 536.5h2M685 536.5h2M693 536.5h1M740 536.5h1M782 536.5h2M788 536.5h2M874 536.5h1M909 536.5h1M1017 536.5h1M176 537.5h2M179 537.5h2M376 537.5h1M430 537.5h1M573 537.5h1M579 537.5h1M649 537.5h1M683 537.5h2M694 537.5h1M740 537.5h1M784 537.5h2M787 537.5h1M874 537.5h1M908 537.5h1M1017 537.5h1M178 538.5h1M377 538.5h1M428 538.5h2M574 538.5h1M578 538.5h1M650 538.5h1M681 538.5h2M695 538.5h1M739 538.5h1M786 538.5h1M875 538.5h1M907 538.5h1M1018 538.5h1M377 539.5h1M427 539.5h1M575 539.5h2M578 539.5h1M651 539.5h2M679 539.5h2M696 539.5h1M739 539.5h1M875 539.5h1M906 539.5h1M1019 539.5h1M378 540.5h1M426 540.5h1M577 540.5h1M653 540.5h4M677 540.5h2M697 540.5h1M738 540.5h1M876 540.5h1M905 540.5h1M1019 540.5h1M379 541.5h1M425 541.5h1M657 541.5h6M675 541.5h2M697 541.5h1M738 541.5h1M876 541.5h1M905 541.5h1M1020 541.5h1M380 542.5h1M424 542.5h1M663 542.5h6M673 542.5h2M698 542.5h1M737 542.5h1M877 542.5h1M904 542.5h1M1020 542.5h1M381 543.5h1M423 543.5h1M669 543.5h4M699 543.5h1M737 543.5h1M877 543.5h1M903 543.5h1M1021 543.5h1M381 544.5h1M421 544.5h2M700 544.5h1M737 544.5h1M878 544.5h1M902 544.5h1M1021 544.5h1M382 545.5h1M420 545.5h1M700 545.5h1M736 545.5h1M878 545.5h1M901 545.5h1M1022 545.5h1M383 546.5h1M419 546.5h1M701 546.5h1M736 546.5h1M879 546.5h1M898 546.5h3M1023 546.5h1M384 547.5h1M418 547.5h1M702 547.5h1M735 547.5h1M879 547.5h1M893 547.5h5M1023 547.5h1M385 548.5h1M417 548.5h1M703 548.5h1M735 548.5h1M880 548.5h1M889 548.5h4M1024 548.5h1M385 549.5h1M415 549.5h2M704 549.5h1M735 549.5h1M880 549.5h1M884 549.5h5M1024 549.5h1M386 550.5h1M414 550.5h1M704 550.5h1M734 550.5h1M881 550.5h3M1025 550.5h1M1127 550.5h3M387 551.5h2M413 551.5h1M705 551.5h1M734 551.5h1M1026 551.5h1M1125 551.5h2M1130 551.5h4M389 552.5h3M412 552.5h1M706 552.5h1M733 552.5h1M1026 552.5h1M1123 552.5h2M1134 552.5h4M392 553.5h3M411 553.5h1M707 553.5h1M733 553.5h1M1027 553.5h1M1120 553.5h3M1138 553.5h4M395 554.5h4M409 554.5h2M708 554.5h1M733 554.5h1M1027 554.5h1M1118 554.5h2M1142 554.5h4M399 555.5h3M408 555.5h1M708 555.5h1M732 555.5h1M1028 555.5h1M1115 555.5h3M1146 555.5h3M402 556.5h3M407 556.5h1M709 556.5h1M732 556.5h1M1028 556.5h1M1113 556.5h2M1149 556.5h3M405 557.5h2M710 557.5h2M731 557.5h1M1029 557.5h1M1111 557.5h2M1152 557.5h2M712 558.5h3M731 558.5h1M1030 558.5h1M1108 558.5h3M1154 558.5h3M715 559.5h3M731 559.5h1M1030 559.5h1M1104 559.5h4M1157 559.5h3M718 560.5h4M730 560.5h1M1031 560.5h1M1067 560.5h8M1100 560.5h4M1160 560.5h2M1181 560.5h5M722 561.5h3M730 561.5h1M1031 561.5h1M1057 561.5h10M1075 561.5h6M1096 561.5h4M1162 561.5h3M1171 561.5h10M725 562.5h3M729 562.5h1M1032 562.5h1M1048 562.5h9M1081 562.5h6M1092 562.5h4M1165 562.5h6M728 563.5h2M1032 563.5h1M1038 563.5h10M1087 563.5h5M1033 564.5h5" stroke="#108010" stroke-width="1" fill="none"/>
</g>
<path d="M7 591.5h1M7 606.5h1M7 637.5h1M26 591.5h1M26 606.5h1M26 637.5h1M45 591.5h1M45 606.5h1M45 637.5h1M64 591.5h1M64 606.5h1M64 637.5h1M83 591.5h1M83 606.5h1M83 637.5h1M102 591.5h1M102 606.5h1M102 637.5h1M121 591.5h1M121 606.5h1M121 637.5h1M140 591.5h1M140 606.5h1M140 637.5h1M159 591.5h1M159 606.5h1M159 637.5h1M178 591.5h1M178 606.5h1M178 637.5h1M197 591.5h1M197 606.5h1M197 637.5h1M216 591.5h1M216 606.5h1M216 637.5h1M235 591.5h1M235 606.5h1M235 637.5h1M254 591.5h1M254 606.5h1M254 637.5h1M273 591.5h1M273 606.5h1M273 637.5h1M292 591.5h1M292 606.5h1M292 637.5h1M311 591.5h1M311 606.5h1M311 637.5h1M330 591.5h1M330 606.5h1M330 637.5h1M349 591.5h1M349 606.5h1M349 637.5h1M368 591.5h1M368 606.5h1M368 637.5h1M387 591.5h1M387 606.5h1M387 637.5h1M406 591.5h1M406 606.5h1M406 637.5h1M425 591.5h1M425 606.5h1M425 637.5h1M444 591.5h1M444 606.5h1M444 637.5h1M463 591.5h1M463 606.5h1M463 637.5h1M482 591.5h1M482 606.5h1M482 637.5h1M501 591.5h1M501 606.5h1M501 637.5h1M520 591.5h1M520 606.5h1M520 637.5h1M539 591.5h1M539 606.5h1M539 637.5h1M558 591.5h1M558 606.5h1M558 637.5h1M577 591.5h1M577 606.5h1M577 637.5h1M596 591.5h1M596 606.5h1M596 637.5h1M615 591.5h1M615 606.5h1M615 637.5h1M634 591.5h1M634 606.5h1M634 637.5h1M653 591.5h1M653 606.5h1M653 637.5h1M672 591.5h1M672 606.5h1M672 637.5h1M691 591.5h1M691 606.5h1M691 637.5h1M710 591.5h1M710 606.5h1M710 637.5h1M729 591.5h1M729 606.5h1M729 637.5h1M748 591.5h1M748 606.5h1M748 637.5h1M767 591.5h1M767 606.5h1M767 637.5h1M786 591.5h1M786 606.5h1M786 637.5h1M805 591.5h1M805 606.5h1M805 637.5h1M824 591.5h1M824 606.5h1M824 637.5h1M843 591.5h1M843 606.5h1M843 637.5h1M862 591.5h1M862 606.5h1M862 637.5h1M881 591.5h1M881 606.5h1M881 637.5h1M900 591.5h1M900 606.5h1M900 637.5h1M919 591.5h1M919 606.5h1M919 637.5h1M938 591.5h1M938 606.5h1M938 637.5h1M957 591.5h1M957 606.5h1M957 637.5h1M976 591.5h1M976 606.5h1M976 637.5h1M995 591.5h1M995 606.5h1M995 637.5h1M1014 591.5h1M1014 606.5h1M1014 637.5h1M1033 591.5h1M1033 606.5h1M1033 637.5h1M1052 591.5h1M1052 606.5h1M1052 637.5h1M1071 591.5h1M1071 606.5h1M1071 637.5h1M1090 591.5h1M1090 606.5h1M1090 637.5h1M1109 591.5h1M1109 606.5h1M1109 637.5h1M1128 591.5h1M1128 606.5h1M1128 637.5h1M1147 591.5h1M1147 606.5h1M1147 637.5h1M1166 591.5h1M1166 606.5h1M1166 637.5h1M1185 591.5h1M1185 606.5h1M1185 637.5h1" stroke="#000" stroke-width="1" fill="none"/>
<line x1="45.5" y1="591" x2="45.5" y2="638" stroke="#000" stroke-width="1" stroke-dasharray="1 1.6"/>
<line x1="121.5" y1="591" x2="121.5" y2="638" stroke="#000" stroke-width="1" stroke-dasharray="1 1.6"/>
<line x1="216.5" y1="591" x2="216.5" y2="638" stroke="#000" stroke-width="1" stroke-dasharray="1 1.6"/>
<line x1="311.5" y1="591" x2="311.5" y2="638" stroke="#000" stroke-width="1" stroke-dasharray="1 1.6"/>
<line x1="406.5" y1="591" x2="406.5" y2="638" stroke="#000" stroke-width="1" stroke-dasharray="1 1.6"/>
<line x1="501.5" y1="591" x2="501.5" y2="638" stroke="#000" stroke-width="1" stroke-dasharray="1 1.6"/>
<line x1="596.5" y1="591" x2="596.5" y2="638" stroke="#000" stroke-width="1" stroke-dasharray="1 1.6"/>
<line x1="691.5" y1="591" x2="691.5" y2="638" stroke="#000" stroke-width="1" stroke-dasharray="1 1.6"/>
<line x1="767.5" y1="591" x2="767.5" y2="638" stroke="#000" stroke-width="1" stroke-dasharray="1 1.6"/>
<line x1="862.5" y1="591" x2="862.5" y2="638" stroke="#000" stroke-width="1" stroke-dasharray="1 1.6"/>
<line x1="919.5" y1="591" x2="919.5" y2="638" stroke="#000" stroke-width="1" stroke-dasharray="1 1.6"/>
<line x1="1033.5" y1="591" x2="1033.5" y2="638" stroke="#000" stroke-width="1" stroke-dasharray="1 1.6"/>
<line x1="1128.5" y1="591" x2="1128.5" y2="638" stroke="#000" stroke-width="1" stroke-dasharray="1 1.6"/>
<line x1="1211" y1="591.5" x2="1215" y2="591.5" stroke="#000" stroke-width="1"/>
<line x1="1" y1="591.5" x2="5" y2="591.5" stroke="#000" stroke-width="1"/>
<line x1="1213" y1="594.5" x2="1215" y2="594.5" stroke="#000" stroke-width="1"/>
<line x1="1" y1="594.5" x2="3" y2="594.5" stroke="#000" stroke-width="1"/>
<line x1="1213" y1="596.5" x2="1215" y2="596.5" stroke="#000" stroke-width="1"/>
<line x1="1" y1="596.5" x2="3" y2="596.5" stroke="#000" stroke-width="1"/>
<line x1="1213" y1="599.5" x2="1215" y2="599.5" stroke="#000" stroke-width="1"/>
<line x1="1" y1="599.5" x2="3" y2="599.5" stroke="#000" stroke-width="1"/>
<line x1="1213" y1="601.5" x2="1215" y2="601.5" stroke="#000" stroke-width="1"/>
<line x1="1" y1="601.5" x2="3" y2="601.5" stroke="#000" stroke-width="1"/>
<line x1="1213" y1="604.5" x2="1215" y2="604.5" stroke="#000" stroke-width="1"/>
<line x1="1" y1="604.5" x2="3" y2="604.5" stroke="#000" stroke-width="1"/>
<line x1="1211" y1="606.5" x2="1215" y2="606.5" stroke="#000" stroke-width="1"/>
<line x1="1" y1="606.5" x2="5" y2="606.5" stroke="#000" stroke-width="1"/>
<line x1="1213" y1="609.5" x2="1215" y2="609.5" stroke="#000" stroke-width="1"/>
<line x1="1" y1="609.5" x2="3" y2="609.5" stroke="#000" stroke-width="1"/>
<line x1="1213" y1="612.5" x2="1215" y2="612.5" stroke="#000" stroke-width="1"/>
<line x1="1" y1="612.5" x2="3" y2="612.5" stroke="#000" stroke-width="1"/>
<line x1="1213" y1="614.5" x2="1215" y2="614.5" stroke="#000" stroke-width="1"/>
<line x1="1" y1="614.5" x2="3" y2="614.5" stroke="#000" stroke-width="1"/>
<line x1="1213" y1="617.5" x2="1215" y2="617.5" stroke="#000" stroke-width="1"/>
<line x1="1" y1="617.5" x2="3" y2="617.5" stroke="#000" stroke-width="1"/>
<line x1="1213" y1="619.5" x2="1215" y2="619.5" stroke="#000" stroke-width="1"/>
<line x1="1" y1="619.5" x2="3" y2="619.5" stroke="#000" stroke-width="1"/>
<line x1="1211" y1="622.5" x2="1215" y2="622.5" stroke="#000" stroke-width="1"/>
<line x1="1" y1="622.5" x2="5" y2="622.5" stroke="#000" stroke-width="1"/>
<line x1="1213" y1="625.5" x2="1215" y2="625.5" stroke="#000" stroke-width="1"/>
<line x1="1" y1="625.5" x2="3" y2="625.5" stroke="#000" stroke-width="1"/>
<line x1="1213" y1="627.5" x2="1215" y2="627.5" stroke="#000" stroke-width="1"/>
<line x1="1" y1="627.5" x2="3" y2="627.5" stroke="#000" stroke-width="1"/>
<line x1="1213" y1="630.5" x2="1215" y2="630.5" stroke="#000" stroke-width="1"/>
<line x1="1" y1="630.5" x2="3" y2="630.5" stroke="#000" stroke-width="1"/>
<line x1="1213" y1="632.5" x2="1215" y2="632.5" stroke="#000" stroke-width="1"/>
<line x1="1" y1="632.5" x2="3" y2="632.5" stroke="#000" stroke-width="1"/>
<line x1="1213" y1="635.5" x2="1215" y2="635.5" stroke="#000" stroke-width="1"/>
<line x1="1" y1="635.5" x2="3" y2="635.5" stroke="#000" stroke-width="1"/>
<line x1="1211" y1="637.5" x2="1215" y2="637.5" stroke="#000" stroke-width="1"/>
<line x1="1" y1="637.5" x2="5" y2="637.5" stroke="#000" stroke-width="1"/>
<g clip-path="url(#cd)">
<rect x="3" y="621" width="9" height="1" fill="#008000" />
<rect x="22" y="621" width="9" height="1" fill="#008000" />
<rect x="41" y="620" width="9" height="2" fill="#008000" />
<rect x="60" y="619" width="9" height="3" fill="#008000" />
<rect x="79" y="619" width="9" height="3" fill="#008000" />
<rect x="98" y="619" width="9" height="3" fill="#008000" />
<rect x="117" y="619" width="9" height="3" fill="#008000" />
<rect x="136" y="619" width="9" height="3" fill="#008000" />
<rect x="155" y="619" width="9" height="3" fill="#008000" />
<rect x="174" y="619" width="9" height="3" fill="#008000" />
<rect x="193" y="619" width="9" height="3" fill="#008000" />
<rect x="212" y="619" width="9" height="3" fill="#008000" />
<rect x="231" y="619" width="9" height="3" fill="#008000" />
<rect x="250" y="619" width="9" height="3" fill="#008000" />
<rect x="269" y="619" width="9" height="3" fill="#008000" />
<rect x="288" y="619" width="9" height="3" fill="#008000" />
<rect x="307" y="619" width="9" height="3" fill="#008000" />
<rect x="326" y="620" width="9" height="2" fill="#008000" />
<rect x="345" y="620" width="9" height="2" fill="#008000" />
<rect x="364" y="620" width="9" height="2" fill="#008000" />
<rect x="383" y="621" width="9" height="1" fill="#008000" />
<rect x="459" y="621" width="9" height="1" fill="#008000" />
<rect x="478" y="621" width="9" height="1" fill="#008000" />
<rect x="516" y="621" width="9" height="1" fill="#008000" />
<rect x="535" y="621" width="9" height="1" fill="#008000" />
<rect x="554" y="621" width="9" height="1" fill="#008000" />
<rect x="592" y="621" width="9" height="1" fill="#008000" />
<rect x="611" y="621" width="9" height="1" fill="#008000" />
<rect x="630" y="621" width="9" height="1" fill="#008000" />
<rect x="839" y="621" width="9" height="1" fill="#008000" />
<rect x="877" y="621" width="9" height="1" fill="#008000" />
<rect x="915" y="621" width="9" height="1" fill="#008000" />
<rect x="934" y="621" width="9" height="1" fill="#008000" />
<rect x="953" y="621" width="9" height="1" fill="#008000" />
<rect x="972" y="621" width="9" height="1" fill="#008000" />
<rect x="991" y="621" width="9" height="1" fill="#008000" />
<rect x="497" y="620" width="9" height="2" fill="#008000" />
<rect x="858" y="620" width="9" height="2" fill="#008000" />
<rect x="706" y="622" width="9" height="1" fill="#008000" />
<rect x="725" y="622" width="9" height="1" fill="#008000" />
<rect x="744" y="622" width="9" height="1" fill="#008000" />
<rect x="1029" y="622" width="9" height="1" fill="#008000" />
<rect x="1048" y="622" width="9" height="3" fill="#008000" />
<rect x="1067" y="622" width="9" height="5" fill="#008000" />
<rect x="1086" y="622" width="9" height="6" fill="#008000" />
<rect x="1105" y="622" width="9" height="6" fill="#008000" />
<rect x="1124" y="622" width="9" height="6" fill="#008000" />
<rect x="1143" y="622" width="9" height="6" fill="#008000" />
<rect x="1162" y="622" width="9" height="6" fill="#008000" />
<rect x="1181" y="622" width="9" height="6" fill="#008000" />
<path d="M592 611.5h43M300 612.5h78M473 612.5h57M582 612.5h10M635 612.5h47M853 612.5h57M929 612.5h57M276 613.5h24M378 613.5h38M435 613.5h38M530 613.5h52M682 613.5h38M796 613.5h57M910 613.5h19M986 613.5h38M252 614.5h24M416 614.5h19M720 614.5h76M1024 614.5h13M228 615.5h24M1037 615.5h6M205 616.5h23M1043 616.5h6M181 617.5h24M1049 617.5h7M157 618.5h24M1056 618.5h6M133 619.5h24M1062 619.5h6M109 620.5h24M1068 620.5h7M84 621.5h25M1075 621.5h6M58 622.5h26M1081 622.5h6M36 623.5h22M1087 623.5h8M17 624.5h19M1095 624.5h10M1 625.5h16M1105 625.5h14M1119 626.5h14M1133 627.5h10M1143 628.5h14M1157 629.5h19M1176 630.5h10" stroke="#0000ff" stroke-width="1" fill="none"/>
<path d="M350 613.5h693M321 614.5h29M1043 614.5h19M296 615.5h25M1062 615.5h14M264 616.5h32M1076 616.5h10M232 617.5h32M1086 617.5h14M205 618.5h27M1100 618.5h14M181 619.5h24M1114 619.5h10M157 620.5h24M1124 620.5h14M133 621.5h24M1138 621.5h19M109 622.5h24M1157 622.5h14M84 623.5h25M1171 623.5h10M58 624.5h26M1181 624.5h5M1 625.5h57" stroke="#ff0000" stroke-width="1" fill="none"/>
</g>
<path d="M7 670.5h1M7 683.5h1M7 696.5h1M7 709.5h1M26 670.5h1M26 683.5h1M26 696.5h1M26 709.5h1M45 670.5h1M45 683.5h1M45 696.5h1M45 709.5h1M64 670.5h1M64 683.5h1M64 696.5h1M64 709.5h1M83 670.5h1M83 683.5h1M83 696.5h1M83 709.5h1M102 670.5h1M102 683.5h1M102 696.5h1M102 709.5h1M121 670.5h1M121 683.5h1M121 696.5h1M121 709.5h1M140 670.5h1M140 683.5h1M140 696.5h1M140 709.5h1M159 670.5h1M159 683.5h1M159 696.5h1M159 709.5h1M178 670.5h1M178 683.5h1M178 696.5h1M178 709.5h1M197 670.5h1M197 683.5h1M197 696.5h1M197 709.5h1M216 670.5h1M216 683.5h1M216 696.5h1M216 709.5h1M235 670.5h1M235 683.5h1M235 696.5h1M235 709.5h1M254 670.5h1M254 683.5h1M254 696.5h1M254 709.5h1M273 670.5h1M273 683.5h1M273 696.5h1M273 709.5h1M292 670.5h1M292 683.5h1M292 696.5h1M292 709.5h1M311 670.5h1M311 683.5h1M311 696.5h1M311 709.5h1M330 670.5h1M330 683.5h1M330 696.5h1M330 709.5h1M349 670.5h1M349 683.5h1M349 696.5h1M349 709.5h1M368 670.5h1M368 683.5h1M368 696.5h1M368 709.5h1M387 670.5h1M387 683.5h1M387 696.5h1M387 709.5h1M406 670.5h1M406 683.5h1M406 696.5h1M406 709.5h1M425 670.5h1M425 683.5h1M425 696.5h1M425 709.5h1M444 670.5h1M444 683.5h1M444 696.5h1M444 709.5h1M463 670.5h1M463 683.5h1M463 696.5h1M463 709.5h1M482 670.5h1M482 683.5h1M482 696.5h1M482 709.5h1M501 670.5h1M501 683.5h1M501 696.5h1M501 709.5h1M520 670.5h1M520 683.5h1M520 696.5h1M520 709.5h1M539 670.5h1M539 683.5h1M539 696.5h1M539 709.5h1M558 670.5h1M558 683.5h1M558 696.5h1M558 709.5h1M577 670.5h1M577 683.5h1M577 696.5h1M577 709.5h1M596 670.5h1M596 683.5h1M596 696.5h1M596 709.5h1M615 670.5h1M615 683.5h1M615 696.5h1M615 709.5h1M634 670.5h1M634 683.5h1M634 696.5h1M634 709.5h1M653 670.5h1M653 683.5h1M653 696.5h1M653 709.5h1M672 670.5h1M672 683.5h1M672 696.5h1M672 709.5h1M691 670.5h1M691 683.5h1M691 696.5h1M691 709.5h1M710 670.5h1M710 683.5h1M710 696.5h1M710 709.5h1M729 670.5h1M729 683.5h1M729 696.5h1M729 709.5h1M748 670.5h1M748 683.5h1M748 696.5h1M748 709.5h1M767 670.5h1M767 683.5h1M767 696.5h1M767 709.5h1M786 670.5h1M786 683.5h1M786 696.5h1M786 709.5h1M805 670.5h1M805 683.5h1M805 696.5h1M805 709.5h1M824 670.5h1M824 683.5h1M824 696.5h1M824 709.5h1M843 670.5h1M843 683.5h1M843 696.5h1M843 709.5h1M862 670.5h1M862 683.5h1M862 696.5h1M862 709.5h1M881 670.5h1M881 683.5h1M881 696.5h1M881 709.5h1M900 670.5h1M900 683.5h1M900 696.5h1M900 709.5h1M919 670.5h1M919 683.5h1M919 696.5h1M919 709.5h1M938 670.5h1M938 683.5h1M938 696.5h1M938 709.5h1M957 670.5h1M957 683.5h1M957 696.5h1M957 709.5h1M976 670.5h1M976 683.5h1M976 696.5h1M976 709.5h1M995 670.5h1M995 683.5h1M995 696.5h1M995 709.5h1M1014 670.5h1M1014 683.5h1M1014 696.5h1M1014 709.5h1M1033 670.5h1M1033 683.5h1M1033 696.5h1M1033 709.5h1M1052 670.5h1M1052 683.5h1M1052 696.5h1M1052 709.5h1M1071 670.5h1M1071 683.5h1M1071 696.5h1M1071 709.5h1M1090 670.5h1M1090 683.5h1M1090 696.5h1M1090 709.5h1M1109 670.5h1M1109 683.5h1M1109 696.5h1M1109 709.5h1M1128 670.5h1M1128 683.5h1M1128 696.5h1M1128 709.5h1M1147 670.5h1M1147 683.5h1M1147 696.5h1M1147 709.5h1M1166 670.5h1M1166 683.5h1M1166 696.5h1M1166 709.5h1M1185 670.5h1M1185 683.5h1M1185 696.5h1M1185 709.5h1" stroke="#000" stroke-width="1" fill="none"/>
<line x1="45.5" y1="670" x2="45.5" y2="722" stroke="#000" stroke-width="1" stroke-dasharray="1 1.6"/>
<line x1="121.5" y1="670" x2="121.5" y2="722" stroke="#000" stroke-width="1" stroke-dasharray="1 1.6"/>
<line x1="216.5" y1="670" x2="216.5" y2="722" stroke="#000" stroke-width="1" stroke-dasharray="1 1.6"/>
<line x1="311.5" y1="670" x2="311.5" y2="722" stroke="#000" stroke-width="1" stroke-dasharray="1 1.6"/>
<line x1="406.5" y1="670" x2="406.5" y2="722" stroke="#000" stroke-width="1" stroke-dasharray="1 1.6"/>
<line x1="501.5" y1="670" x2="501.5" y2="722" stroke="#000" stroke-width="1" stroke-dasharray="1 1.6"/>
<line x1="596.5" y1="670" x2="596.5" y2="722" stroke="#000" stroke-width="1" stroke-dasharray="1 1.6"/>
<line x1="691.5" y1="670" x2="691.5" y2="722" stroke="#000" stroke-width="1" stroke-dasharray="1 1.6"/>
<line x1="767.5" y1="670" x2="767.5" y2="722" stroke="#000" stroke-width="1" stroke-dasharray="1 1.6"/>
<line x1="862.5" y1="670" x2="862.5" y2="722" stroke="#000" stroke-width="1" stroke-dasharray="1 1.6"/>
<line x1="919.5" y1="670" x2="919.5" y2="722" stroke="#000" stroke-width="1" stroke-dasharray="1 1.6"/>
<line x1="1033.5" y1="670" x2="1033.5" y2="722" stroke="#000" stroke-width="1" stroke-dasharray="1 1.6"/>
<line x1="1128.5" y1="670" x2="1128.5" y2="722" stroke="#000" stroke-width="1" stroke-dasharray="1 1.6"/>
<line x1="1" y1="722.5" x2="1215" y2="722.5" stroke="#808080" stroke-width="1"/>
<line x1="1211" y1="670.5" x2="1215" y2="670.5" stroke="#000" stroke-width="1"/>
<line x1="1" y1="670.5" x2="5" y2="670.5" stroke="#000" stroke-width="1"/>
<line x1="1213" y1="673.5" x2="1215" y2="673.5" stroke="#000" stroke-width="1"/>
<line x1="1" y1="673.5" x2="3" y2="673.5" stroke="#000" stroke-width="1"/>
<line x1="1213" y1="675.5" x2="1215" y2="675.5" stroke="#000" stroke-width="1"/>
<line x1="1" y1="675.5" x2="3" y2="675.5" stroke="#000" stroke-width="1"/>
<line x1="1213" y1="678.5" x2="1215" y2="678.5" stroke="#000" stroke-width="1"/>
<line x1="1" y1="678.5" x2="3" y2="678.5" stroke="#000" stroke-width="1"/>
<line x1="1213" y1="680.5" x2="1215" y2="680.5" stroke="#000" stroke-width="1"/>
<line x1="1" y1="680.5" x2="3" y2="680.5" stroke="#000" stroke-width="1"/>
<line x1="1211" y1="683.5" x2="1215" y2="683.5" stroke="#000" stroke-width="1"/>
<line x1="1" y1="683.5" x2="5" y2="683.5" stroke="#000" stroke-width="1"/>
<line x1="1213" y1="686.5" x2="1215" y2="686.5" stroke="#000" stroke-width="1"/>
<line x1="1" y1="686.5" x2="3" y2="686.5" stroke="#000" stroke-width="1"/>
<line x1="1213" y1="688.5" x2="1215" y2="688.5" stroke="#000" stroke-width="1"/>
<line x1="1" y1="688.5" x2="3" y2="688.5" stroke="#000" stroke-width="1"/>
<line x1="1213" y1="691.5" x2="1215" y2="691.5" stroke="#000" stroke-width="1"/>
<line x1="1" y1="691.5" x2="3" y2="691.5" stroke="#000" stroke-width="1"/>
<line x1="1213" y1="693.5" x2="1215" y2="693.5" stroke="#000" stroke-width="1"/>
<line x1="1" y1="693.5" x2="3" y2="693.5" stroke="#000" stroke-width="1"/>
<line x1="1211" y1="696.5" x2="1215" y2="696.5" stroke="#000" stroke-width="1"/>
<line x1="1" y1="696.5" x2="5" y2="696.5" stroke="#000" stroke-width="1"/>
<line x1="1213" y1="698.5" x2="1215" y2="698.5" stroke="#000" stroke-width="1"/>
<line x1="1" y1="698.5" x2="3" y2="698.5" stroke="#000" stroke-width="1"/>
<line x1="1213" y1="701.5" x2="1215" y2="701.5" stroke="#000" stroke-width="1"/>
<line x1="1" y1="701.5" x2="3" y2="701.5" stroke="#000" stroke-width="1"/>
<line x1="1213" y1="704.5" x2="1215" y2="704.5" stroke="#000" stroke-width="1"/>
<line x1="1" y1="704.5" x2="3" y2="704.5" stroke="#000" stroke-width="1"/>
<line x1="1213" y1="706.5" x2="1215" y2="706.5" stroke="#000" stroke-width="1"/>
<line x1="1" y1="706.5" x2="3" y2="706.5" stroke="#000" stroke-width="1"/>
<line x1="1211" y1="709.5" x2="1215" y2="709.5" stroke="#000" stroke-width="1"/>
<line x1="1" y1="709.5" x2="5" y2="709.5" stroke="#000" stroke-width="1"/>
<line x1="1213" y1="711.5" x2="1215" y2="711.5" stroke="#000" stroke-width="1"/>
<line x1="1" y1="711.5" x2="3" y2="711.5" stroke="#000" stroke-width="1"/>
<line x1="1213" y1="714.5" x2="1215" y2="714.5" stroke="#000" stroke-width="1"/>
<line x1="1" y1="714.5" x2="3" y2="714.5" stroke="#000" stroke-width="1"/>
<line x1="1213" y1="717.5" x2="1215" y2="717.5" stroke="#000" stroke-width="1"/>
<line x1="1" y1="717.5" x2="3" y2="717.5" stroke="#000" stroke-width="1"/>
<line x1="1213" y1="719.5" x2="1215" y2="719.5" stroke="#000" stroke-width="1"/>
<line x1="1" y1="719.5" x2="3" y2="719.5" stroke="#000" stroke-width="1"/>
<line x1="1211" y1="722.5" x2="1215" y2="722.5" stroke="#000" stroke-width="1"/>
<line x1="1" y1="722.5" x2="5" y2="722.5" stroke="#000" stroke-width="1"/>
<g clip-path="url(#ca)">
<polyline points="0.0,710.5 7.5,705.0 26.5,710.5 45.5,715.0 64.5,718.5 83.5,719.8 102.5,719.8 121.5,710.5 140.5,713.5 159.5,710.0 178.5,714.2 197.5,717.2 216.5,709.2 235.5,715.0 254.5,717.5 273.5,719.8 292.5,719.8 311.5,709.2 330.5,714.2 349.5,716.8 368.5,718.5 387.5,709.2 406.5,704.8 425.5,711.0 444.5,715.0 463.5,718.5 482.5,719.8 501.5,719.8 520.5,717.5 539.5,718.5 558.5,712.5 577.5,712.5 596.5,716.0 615.5,718.0 634.5,719.8 653.5,693.8 672.5,704.2 691.5,710.5 710.5,699.8 729.5,700.5 748.5,709.2 767.5,713.8 786.5,706.8 805.5,712.2 824.5,713.5 843.5,716.2 862.5,718.0 881.5,709.2 900.5,709.2 919.5,713.5 938.5,717.5 957.5,719.2 976.5,719.2 995.5,714.8 1014.5,716.8 1033.5,703.0 1052.5,695.5 1071.5,697.2 1090.5,698.5 1109.5,698.5 1128.5,708.8 1147.5,713.5 1166.5,697.5 1185.5,693.8" fill="none" stroke="#ff0000" stroke-width="2" />
<polyline points="0.0,720.0 7.5,720.0 26.5,711.8 45.5,695.5 64.5,703.0 83.5,703.0 102.5,711.0 121.5,715.0 140.5,698.0 159.5,706.8 178.5,705.0 197.5,712.5 216.5,716.0 235.5,695.5 254.5,700.0 273.5,690.5 292.5,701.8 311.5,709.2 330.5,713.5 349.5,699.2 368.5,701.0 387.5,708.8 406.5,713.5 425.5,710.5 444.5,703.0 463.5,702.5 482.5,697.5 501.5,697.5 520.5,708.0 539.5,713.5 558.5,716.8 577.5,718.0 596.5,701.0 615.5,701.0 634.5,705.5 653.5,711.8 672.5,704.2 691.5,711.2 710.5,715.0 729.5,718.0 748.5,708.0 767.5,705.0 786.5,711.2 805.5,715.5 824.5,718.0 843.5,709.2 862.5,694.2 881.5,703.8 900.5,710.5 919.5,682.5 938.5,690.5 957.5,703.0 976.5,698.0 995.5,708.0 1014.5,713.5 1033.5,716.8 1052.5,718.0 1071.5,719.8 1090.5,720.5 1109.5,720.5 1128.5,708.8 1147.5,713.0 1166.5,716.0 1185.5,718.0" fill="none" stroke="#0000ff" stroke-width="2" />
<polyline points="0.0,699.2 7.5,694.2 26.5,705.0 45.5,699.2 64.5,694.2 83.5,689.2 102.5,686.2 121.5,693.8 140.5,694.2 159.5,703.0 178.5,703.0 197.5,703.0 216.5,703.0 235.5,699.2 254.5,694.2 273.5,688.0 292.5,683.8 311.5,699.2 330.5,708.0 349.5,699.2 368.5,693.5 387.5,703.8 406.5,703.8 425.5,709.2 444.5,703.0 463.5,697.5 482.5,690.0 501.5,685.5 520.5,689.2 539.5,691.8 558.5,697.5 577.5,697.5 596.5,695.0 615.5,691.2 634.5,687.8 653.5,690.0 672.5,702.5 691.5,710.5 710.5,703.5 729.5,696.8 748.5,705.5 767.5,704.8 786.5,707.2 805.5,709.2 824.5,707.2 843.5,703.5 862.5,695.0 881.5,702.5 900.5,706.8 919.5,699.2 938.5,692.5 957.5,690.0 976.5,685.0 995.5,694.2 1014.5,698.8 1033.5,696.2 1052.5,690.0 1071.5,685.0 1090.5,681.2 1109.5,678.5 1128.5,695.0 1147.5,704.8 1166.5,697.5 1185.5,691.8" fill="none" stroke="#008000" stroke-width="2" />
</g>
<path d="M7 742.5h1M7 809.5h1M26 742.5h1M26 809.5h1M45 742.5h1M45 809.5h1M64 742.5h1M64 809.5h1M83 742.5h1M83 809.5h1M102 742.5h1M102 809.5h1M121 742.5h1M121 809.5h1M140 742.5h1M140 809.5h1M159 742.5h1M159 809.5h1M178 742.5h1M178 809.5h1M197 742.5h1M197 809.5h1M216 742.5h1M216 809.5h1M235 742.5h1M235 809.5h1M254 742.5h1M254 809.5h1M273 742.5h1M273 809.5h1M292 742.5h1M292 809.5h1M311 742.5h1M311 809.5h1M330 742.5h1M330 809.5h1M349 742.5h1M349 809.5h1M368 742.5h1M368 809.5h1M387 742.5h1M387 809.5h1M406 742.5h1M406 809.5h1M425 742.5h1M425 809.5h1M444 742.5h1M444 809.5h1M463 742.5h1M463 809.5h1M482 742.5h1M482 809.5h1M501 742.5h1M501 809.5h1M520 742.5h1M520 809.5h1M539 742.5h1M539 809.5h1M558 742.5h1M558 809.5h1M577 742.5h1M577 809.5h1M596 742.5h1M596 809.5h1M615 742.5h1M615 809.5h1M634 742.5h1M634 809.5h1M653 742.5h1M653 809.5h1M672 742.5h1M672 809.5h1M691 742.5h1M691 809.5h1M710 742.5h1M710 809.5h1M729 742.5h1M729 809.5h1M748 742.5h1M748 809.5h1M767 742.5h1M767 809.5h1M786 742.5h1M786 809.5h1M805 742.5h1M805 809.5h1M824 742.5h1M824 809.5h1M843 742.5h1M843 809.5h1M862 742.5h1M862 809.5h1M881 742.5h1M881 809.5h1M900 742.5h1M900 809.5h1M919 742.5h1M919 809.5h1M938 742.5h1M938 809.5h1M957 742.5h1M957 809.5h1M976 742.5h1M976 809.5h1M995 742.5h1M995 809.5h1M1014 742.5h1M1014 809.5h1M1033 742.5h1M1033 809.5h1M1052 742.5h1M1052 809.5h1M1071 742.5h1M1071 809.5h1M1090 742.5h1M1090 809.5h1M1109 742.5h1M1109 809.5h1M1128 742.5h1M1128 809.5h1M1147 742.5h1M1147 809.5h1M1166 742.5h1M1166 809.5h1M1185 742.5h1M1185 809.5h1M64 775.5h1M83 775.5h1M159 775.5h1M273 775.5h1M425 775.5h1M520 775.5h1M539 775.5h1M615 775.5h1M634 775.5h1M653 775.5h1M748 775.5h1M843 775.5h1M938 775.5h1M957 775.5h1M976 775.5h1M995 775.5h1M1071 775.5h1M1090 775.5h1M1109 775.5h1M1185 775.5h1" stroke="#000" stroke-width="1" fill="none"/>
<line x1="45.5" y1="742" x2="45.5" y2="810" stroke="#000" stroke-width="1" stroke-dasharray="1 2.37"/>
<line x1="121.5" y1="742" x2="121.5" y2="810" stroke="#000" stroke-width="1" stroke-dasharray="1 2.37"/>
<line x1="216.5" y1="742" x2="216.5" y2="810" stroke="#000" stroke-width="1" stroke-dasharray="1 2.37"/>
<line x1="311.5" y1="742" x2="311.5" y2="810" stroke="#000" stroke-width="1" stroke-dasharray="1 2.37"/>
<line x1="406.5" y1="742" x2="406.5" y2="810" stroke="#000" stroke-width="1" stroke-dasharray="1 2.37"/>
<line x1="501.5" y1="742" x2="501.5" y2="810" stroke="#000" stroke-width="1" stroke-dasharray="1 2.37"/>
<line x1="596.5" y1="742" x2="596.5" y2="810" stroke="#000" stroke-width="1" stroke-dasharray="1 2.37"/>
<line x1="691.5" y1="742" x2="691.5" y2="810" stroke="#000" stroke-width="1" stroke-dasharray="1 2.37"/>
<line x1="767.5" y1="742" x2="767.5" y2="810" stroke="#000" stroke-width="1" stroke-dasharray="1 2.37"/>
<line x1="862.5" y1="742" x2="862.5" y2="810" stroke="#000" stroke-width="1" stroke-dasharray="1 2.37"/>
<line x1="919.5" y1="742" x2="919.5" y2="810" stroke="#000" stroke-width="1" stroke-dasharray="1 2.37"/>
<line x1="1033.5" y1="742" x2="1033.5" y2="810" stroke="#000" stroke-width="1" stroke-dasharray="1 2.37"/>
<line x1="1128.5" y1="742" x2="1128.5" y2="810" stroke="#000" stroke-width="1" stroke-dasharray="1 2.37"/>
<line x1="1211" y1="742.5" x2="1215" y2="742.5" stroke="#000" stroke-width="1"/>
<line x1="1" y1="742.5" x2="5" y2="742.5" stroke="#000" stroke-width="1"/>
<line x1="1213" y1="745.5" x2="1215" y2="745.5" stroke="#000" stroke-width="1"/>
<line x1="1" y1="745.5" x2="3" y2="745.5" stroke="#000" stroke-width="1"/>
<line x1="1213" y1="748.5" x2="1215" y2="748.5" stroke="#000" stroke-width="1"/>
<line x1="1" y1="748.5" x2="3" y2="748.5" stroke="#000" stroke-width="1"/>
<line x1="1213" y1="752.5" x2="1215" y2="752.5" stroke="#000" stroke-width="1"/>
<line x1="1" y1="752.5" x2="3" y2="752.5" stroke="#000" stroke-width="1"/>
<line x1="1213" y1="755.5" x2="1215" y2="755.5" stroke="#000" stroke-width="1"/>
<line x1="1" y1="755.5" x2="3" y2="755.5" stroke="#000" stroke-width="1"/>
<line x1="1211" y1="758.5" x2="1215" y2="758.5" stroke="#000" stroke-width="1"/>
<line x1="1" y1="758.5" x2="5" y2="758.5" stroke="#000" stroke-width="1"/>
<line x1="1213" y1="762.5" x2="1215" y2="762.5" stroke="#000" stroke-width="1"/>
<line x1="1" y1="762.5" x2="3" y2="762.5" stroke="#000" stroke-width="1"/>
<line x1="1213" y1="765.5" x2="1215" y2="765.5" stroke="#000" stroke-width="1"/>
<line x1="1" y1="765.5" x2="3" y2="765.5" stroke="#000" stroke-width="1"/>
<line x1="1213" y1="769.5" x2="1215" y2="769.5" stroke="#000" stroke-width="1"/>
<line x1="1" y1="769.5" x2="3" y2="769.5" stroke="#000" stroke-width="1"/>
<line x1="1213" y1="772.5" x2="1215" y2="772.5" stroke="#000" stroke-width="1"/>
<line x1="1" y1="772.5" x2="3" y2="772.5" stroke="#000" stroke-width="1"/>
<line x1="1211" y1="775.5" x2="1215" y2="775.5" stroke="#000" stroke-width="1"/>
<line x1="1" y1="775.5" x2="5" y2="775.5" stroke="#000" stroke-width="1"/>
<line x1="1213" y1="779.5" x2="1215" y2="779.5" stroke="#000" stroke-width="1"/>
<line x1="1" y1="779.5" x2="3" y2="779.5" stroke="#000" stroke-width="1"/>
<line x1="1213" y1="782.5" x2="1215" y2="782.5" stroke="#000" stroke-width="1"/>
<line x1="1" y1="782.5" x2="3" y2="782.5" stroke="#000" stroke-width="1"/>
<line x1="1213" y1="785.5" x2="1215" y2="785.5" stroke="#000" stroke-width="1"/>
<line x1="1" y1="785.5" x2="3" y2="785.5" stroke="#000" stroke-width="1"/>
<line x1="1213" y1="789.5" x2="1215" y2="789.5" stroke="#000" stroke-width="1"/>
<line x1="1" y1="789.5" x2="3" y2="789.5" stroke="#000" stroke-width="1"/>
<line x1="1211" y1="792.5" x2="1215" y2="792.5" stroke="#000" stroke-width="1"/>
<line x1="1" y1="792.5" x2="5" y2="792.5" stroke="#000" stroke-width="1"/>
<line x1="1213" y1="796.5" x2="1215" y2="796.5" stroke="#000" stroke-width="1"/>
<line x1="1" y1="796.5" x2="3" y2="796.5" stroke="#000" stroke-width="1"/>
<line x1="1213" y1="799.5" x2="1215" y2="799.5" stroke="#000" stroke-width="1"/>
<line x1="1" y1="799.5" x2="3" y2="799.5" stroke="#000" stroke-width="1"/>
<line x1="1213" y1="802.5" x2="1215" y2="802.5" stroke="#000" stroke-width="1"/>
<line x1="1" y1="802.5" x2="3" y2="802.5" stroke="#000" stroke-width="1"/>
<line x1="1213" y1="806.5" x2="1215" y2="806.5" stroke="#000" stroke-width="1"/>
<line x1="1" y1="806.5" x2="3" y2="806.5" stroke="#000" stroke-width="1"/>
<line x1="1211" y1="809.5" x2="1215" y2="809.5" stroke="#000" stroke-width="1"/>
<line x1="1" y1="809.5" x2="5" y2="809.5" stroke="#000" stroke-width="1"/>
<g clip-path="url(#cr)">
<line x1="1" y1="758.5" x2="1215" y2="758.5" stroke="#d00000" stroke-width="1" stroke-dasharray="3 3"/>
<line x1="1" y1="792.5" x2="1215" y2="792.5" stroke="#0000d0" stroke-width="1" stroke-dasharray="3 3"/>
<path d="M270 756.5h5M264 757.5h6M275 757.5h3M258 758.5h6M278 758.5h2M861 758.5h2M250 759.5h8M280 759.5h3M479 759.5h24M595 759.5h6M857 759.5h4M863 759.5h1M240 760.5h10M283 760.5h3M473 760.5h6M503 760.5h3M593 760.5h2M601 760.5h10M853 760.5h4M864 760.5h1M234 761.5h6M286 761.5h2M348 761.5h6M467 761.5h6M506 761.5h3M591 761.5h2M611 761.5h25M849 761.5h4M865 761.5h2M138 762.5h4M231 762.5h3M288 762.5h3M302 762.5h12M344 762.5h4M354 762.5h10M461 762.5h6M509 762.5h4M589 762.5h2M636 762.5h2M845 762.5h4M867 762.5h1M133 763.5h5M142 763.5h4M228 763.5h3M291 763.5h11M314 763.5h5M340 763.5h4M364 763.5h6M456 763.5h5M513 763.5h3M587 763.5h2M638 763.5h2M840 763.5h5M868 763.5h1M45 764.5h5M129 764.5h4M146 764.5h4M224 764.5h4M319 764.5h4M336 764.5h4M370 764.5h2M452 764.5h4M516 764.5h3M530 764.5h31M585 764.5h2M640 764.5h3M748 764.5h5M834 764.5h6M869 764.5h1M43 765.5h2M50 765.5h10M74 765.5h13M124 765.5h5M150 765.5h4M221 765.5h3M323 765.5h5M332 765.5h4M372 765.5h2M447 765.5h5M519 765.5h11M561 765.5h5M583 765.5h2M643 765.5h2M747 765.5h1M753 765.5h10M828 765.5h6M870 765.5h1M986 765.5h11M41 766.5h2M60 766.5h14M87 766.5h6M117 766.5h7M154 766.5h4M193 766.5h14M218 766.5h3M328 766.5h4M374 766.5h2M441 766.5h6M566 766.5h4M581 766.5h2M645 766.5h3M689 766.5h4M746 766.5h1M763 766.5h6M804 766.5h24M871 766.5h2M972 766.5h14M997 766.5h3M39 767.5h2M93 767.5h6M107 767.5h10M158 767.5h11M183 767.5h10M207 767.5h11M376 767.5h2M435 767.5h6M570 767.5h5M579 767.5h2M648 767.5h2M684 767.5h5M693 767.5h2M744 767.5h2M769 767.5h4M800 767.5h4M873 767.5h1M918 767.5h11M962 767.5h10M1000 767.5h3M37 768.5h2M99 768.5h8M169 768.5h14M378 768.5h2M429 768.5h6M575 768.5h4M650 768.5h2M680 768.5h4M695 768.5h2M743 768.5h1M773 768.5h4M796 768.5h4M874 768.5h1M915 768.5h3M929 768.5h33M1003 768.5h4M35 769.5h2M380 769.5h2M424 769.5h5M652 769.5h11M675 769.5h5M697 769.5h2M742 769.5h1M777 769.5h4M792 769.5h4M875 769.5h1M912 769.5h3M1007 769.5h3M33 770.5h2M382 770.5h2M421 770.5h3M663 770.5h12M699 770.5h2M741 770.5h1M781 770.5h4M788 770.5h4M876 770.5h1M908 770.5h4M1010 770.5h3M31 771.5h2M384 771.5h2M418 771.5h3M701 771.5h2M740 771.5h1M785 771.5h3M877 771.5h2M905 771.5h3M1013 771.5h2M29 772.5h2M386 772.5h5M414 772.5h4M703 772.5h2M738 772.5h2M879 772.5h1M902 772.5h3M1015 772.5h2M27 773.5h2M391 773.5h6M411 773.5h3M705 773.5h2M737 773.5h1M880 773.5h1M891 773.5h11M1017 773.5h1M17 774.5h10M397 774.5h6M408 774.5h3M707 774.5h2M736 774.5h1M881 774.5h10M1018 774.5h2M4 775.5h13M403 775.5h5M709 775.5h3M735 775.5h1M1020 775.5h1M1 776.5h3M712 776.5h4M734 776.5h1M1021 776.5h2M716 777.5h4M732 777.5h2M1023 777.5h1M720 778.5h4M731 778.5h1M1024 778.5h1M724 779.5h4M730 779.5h1M1025 779.5h2M728 780.5h2M1027 780.5h1M1028 781.5h2M1030 782.5h1M1031 783.5h2M1033 784.5h2M1035 785.5h4M1127 785.5h6M1039 786.5h4M1124 786.5h3M1133 786.5h10M1043 787.5h4M1121 787.5h3M1143 787.5h8M1047 788.5h4M1117 788.5h4M1151 788.5h6M1051 789.5h11M1114 789.5h3M1157 789.5h6M1062 790.5h13M1111 790.5h3M1163 790.5h7M1075 791.5h6M1105 791.5h6M1170 791.5h6M1081 792.5h6M1095 792.5h10M1176 792.5h6M1087 793.5h8M1182 793.5h4" stroke="#0000ff" stroke-width="1" fill="none"/>
</g>
<rect x="0" y="0" width="1268" height="1" fill="#000" />
<rect x="0" y="0" width="1" height="821" fill="#000" />
<rect x="1267" y="0" width="1" height="819" fill="#000" />
<rect x="1215" y="0" width="1" height="822" fill="#000" />
<rect x="0" y="499" width="1268" height="2" fill="#000" />
<rect x="0" y="580" width="1268" height="2" fill="#000" />
<rect x="0" y="660" width="1268" height="2" fill="#000" />
<rect x="0" y="731" width="1268" height="2" fill="#000" />
<rect x="0" y="818" width="1268" height="1" fill="#000" />
<rect x="0" y="821" width="1216" height="1" fill="#000" />
<rect x="45" y="821" width="1" height="13" fill="#000" />
<text x="46.3" y="832" font-size="10.5" font-family="Liberation Sans, sans-serif" fill="#000" style="letter-spacing:1px">Янв 3</text>
<rect x="121" y="821" width="1" height="13" fill="#000" />
<text x="122.3" y="832" font-size="10.5" font-family="Liberation Sans, sans-serif" fill="#000" style="letter-spacing:1px">9</text>
<rect x="216" y="821" width="1" height="13" fill="#000" />
<text x="217.3" y="832" font-size="10.5" font-family="Liberation Sans, sans-serif" fill="#000" style="letter-spacing:1px">16</text>
<rect x="311" y="821" width="1" height="13" fill="#000" />
<text x="312.3" y="832" font-size="10.5" font-family="Liberation Sans, sans-serif" fill="#000" style="letter-spacing:1px">23</text>
<rect x="406" y="821" width="1" height="13" fill="#000" />
<text x="407.3" y="832" font-size="10.5" font-family="Liberation Sans, sans-serif" fill="#000" style="letter-spacing:1px">30</text>
<rect x="501" y="821" width="1" height="13" fill="#000" />
<text x="502.3" y="832" font-size="10.5" font-family="Liberation Sans, sans-serif" fill="#000" style="letter-spacing:1px">Фев 6</text>
<rect x="596" y="821" width="1" height="13" fill="#000" />
<text x="597.3" y="832" font-size="10.5" font-family="Liberation Sans, sans-serif" fill="#000" style="letter-spacing:1px">13</text>
<rect x="691" y="821" width="1" height="13" fill="#000" />
<text x="692.3" y="832" font-size="10.5" font-family="Liberation Sans, sans-serif" fill="#000" style="letter-spacing:1px">20</text>
<rect x="767" y="821" width="1" height="13" fill="#000" />
<text x="768.3" y="832" font-size="10.5" font-family="Liberation Sans, sans-serif" fill="#000" style="letter-spacing:1px">27</text>
<rect x="862" y="821" width="1" height="13" fill="#000" />
<text x="863.3" y="832" font-size="10.5" font-family="Liberation Sans, sans-serif" fill="#000" style="letter-spacing:1px">Мар 5</text>
<rect x="919" y="821" width="1" height="13" fill="#000" />
<text x="920.3" y="832" font-size="10.5" font-family="Liberation Sans, sans-serif" fill="#000" style="letter-spacing:1px">11</text>
<rect x="1033" y="821" width="1" height="13" fill="#000" />
<text x="1034.3" y="832" font-size="10.5" font-family="Liberation Sans, sans-serif" fill="#000" style="letter-spacing:1px">19</text>
<rect x="1128" y="821" width="1" height="13" fill="#000" />
<text x="1129.3" y="832" font-size="10.5" font-family="Liberation Sans, sans-serif" fill="#000" style="letter-spacing:1px">26</text>
<rect x="3" y="3" width="27" height="11" fill="#606060" />
<rect x="1" y="1" width="27" height="11" fill="#fff" />
<text x="2" y="10" font-size="10" font-weight="bold" stroke="#000" stroke-width="0.25" font-family="Liberation Sans, sans-serif" fill="#000" textLength="23" lengthAdjust="spacingAndGlyphs">Data</text>
<rect x="3" y="584" width="32" height="11" fill="#606060" />
<rect x="1" y="582" width="32" height="11" fill="#fff" />
<text x="2" y="591" font-size="10" font-weight="bold" stroke="#000" stroke-width="0.25" font-family="Liberation Sans, sans-serif" fill="#000" textLength="28" lengthAdjust="spacingAndGlyphs">MACD</text>
<rect x="3" y="664" width="25" height="11" fill="#606060" />
<rect x="1" y="662" width="25" height="11" fill="#fff" />
<text x="2" y="671" font-size="10" font-weight="bold" stroke="#000" stroke-width="0.25" font-family="Liberation Sans, sans-serif" fill="#000" textLength="21" lengthAdjust="spacingAndGlyphs">ADX</text>
<rect x="3" y="735" width="32" height="11" fill="#606060" />
<rect x="1" y="733" width="32" height="11" fill="#fff" />
<text x="2" y="742" font-size="10" font-weight="bold" stroke="#000" stroke-width="0.25" font-family="Liberation Sans, sans-serif" fill="#000" textLength="28" lengthAdjust="spacingAndGlyphs">RSI, 8</text>
<g clip-path="url(#rl)">
<defs><clipPath id="rl"><rect x="1216" y="1" width="51" height="833"/></clipPath></defs>
<text x="1265" y="206.7" text-anchor="end" font-size="9.5" font-weight="bold" font-family="Liberation Sans, sans-serif" fill="#000" style="letter-spacing:0.5px">190.00</text>
<text x="1265" y="491.9" text-anchor="end" font-size="9.5" font-weight="bold" font-family="Liberation Sans, sans-serif" fill="#000" style="letter-spacing:0.5px">170.00</text>
<rect x="1216" y="185" width="51" height="12" fill="#000" />
<rect x="1216" y="186" width="51" height="10" fill="#8b0000" />
<text x="1266.2" y="194.8" text-anchor="end" font-size="9.5" font-weight="bold" font-family="Liberation Sans, sans-serif" fill="#fff" style="letter-spacing:0.5px">190.86</text>
<rect x="1216" y="238" width="51" height="12" fill="#000" />
<rect x="1216" y="239" width="51" height="10" fill="#000050" />
<text x="1266.2" y="247.8" text-anchor="end" font-size="9.5" font-weight="bold" font-family="Liberation Sans, sans-serif" fill="#fff" style="letter-spacing:0.5px">187.16</text>
<rect x="1216" y="387" width="51" height="12" fill="#000" />
<rect x="1216" y="388" width="51" height="10" fill="#000050" />
<text x="1266.2" y="396.8" text-anchor="end" font-size="9.5" font-weight="bold" font-family="Liberation Sans, sans-serif" fill="#fff" style="letter-spacing:0.5px">176.72</text>
<rect x="1216" y="273" width="51" height="12" fill="#000" />
<rect x="1216" y="274" width="51" height="10" fill="#8c8cf4" />
<text x="1266.2" y="282.8" text-anchor="end" font-size="9.5" font-weight="bold" font-family="Liberation Sans, sans-serif" fill="#fff" style="letter-spacing:0.5px">184.73</text>
<rect x="1216" y="311" width="51" height="12" fill="#000" />
<rect x="1216" y="312" width="51" height="10" fill="#00ff00" />
<text x="1266.2" y="320.8" text-anchor="end" font-size="9.5" font-weight="bold" font-family="Liberation Sans, sans-serif" fill="#fff" style="letter-spacing:0.5px">182.05</text>
<rect x="1216" y="338" width="51" height="12" fill="#000" />
<rect x="1216" y="339" width="51" height="10" fill="#8000ff" />
<text x="1266.2" y="347.8" text-anchor="end" font-size="9.5" font-weight="bold" font-family="Liberation Sans, sans-serif" fill="#fff" style="letter-spacing:0.5px">180.15</text>
<rect x="1216" y="55" width="51" height="12" fill="#000" />
<rect x="1216" y="56" width="51" height="10" fill="#008000" />
<text x="1266.2" y="64.8" text-anchor="end" font-size="9.5" font-weight="bold" font-family="Liberation Sans, sans-serif" fill="#fff" style="letter-spacing:0.5px">200.00</text>
<rect x="1216" y="194" width="51" height="12" fill="#000" />
<rect x="1216" y="195" width="51" height="10" fill="#008000" />
<text x="1266.2" y="203.8" text-anchor="end" font-size="9.5" font-weight="bold" font-family="Liberation Sans, sans-serif" fill="#fff" style="letter-spacing:0.5px">190.24</text>
<rect x="1216" y="246" width="51" height="12" fill="#000" />
<rect x="1216" y="247" width="51" height="10" fill="#0000d8" />
<text x="1266.2" y="255.8" text-anchor="end" font-size="9.5" font-weight="bold" font-family="Liberation Sans, sans-serif" fill="#fff" style="letter-spacing:0.5px">186.61</text>
<rect x="1216" y="294" width="51" height="12" fill="#000" />
<rect x="1216" y="295" width="51" height="10" fill="#0000d8" />
<text x="1266.2" y="303.8" text-anchor="end" font-size="9.5" font-weight="bold" font-family="Liberation Sans, sans-serif" fill="#fff" style="letter-spacing:0.5px">183.28</text>
<rect x="1216" y="382" width="51" height="12" fill="#000" />
<rect x="1216" y="383" width="51" height="10" fill="#000" />
<text x="1266.2" y="391.8" text-anchor="end" font-size="9.5" font-weight="bold" font-family="Liberation Sans, sans-serif" fill="#fff" style="letter-spacing:0.5px">177.05</text>
<text x="1265" y="515.9" text-anchor="end" font-size="9.5" font-weight="bold" font-family="Liberation Sans, sans-serif" fill="#000" style="letter-spacing:0.5px">100.00</text>
<text x="1265" y="541.9" text-anchor="end" font-size="9.5" font-weight="bold" font-family="Liberation Sans, sans-serif" fill="#000" style="letter-spacing:0.5px">50.00</text>
<text x="1265" y="569.2" text-anchor="end" font-size="9.5" font-weight="bold" font-family="Liberation Sans, sans-serif" fill="#000" style="letter-spacing:0.5px">0.00</text>
<rect x="1216" y="546" width="51" height="12" fill="#000" />
<rect x="1216" y="547" width="51" height="10" fill="#0000d8" />
<text x="1266.2" y="555.8" text-anchor="end" font-size="9.5" font-weight="bold" font-family="Liberation Sans, sans-serif" fill="#fff" style="letter-spacing:0.5px"></text>
<rect x="1216" y="549" width="51" height="12" fill="#000" />
<rect x="1216" y="550" width="51" height="10" fill="#0000d8" />
<text x="1266.2" y="558.8" text-anchor="end" font-size="9.5" font-weight="bold" font-family="Liberation Sans, sans-serif" fill="#fff" style="letter-spacing:0.5px">20.00</text>
<rect x="1216" y="556" width="51" height="12" fill="#000" />
<rect x="1216" y="557" width="51" height="10" fill="#ff9000" />
<text x="1266.2" y="565.8" text-anchor="end" font-size="9.5" font-weight="bold" font-family="Liberation Sans, sans-serif" fill="#fff" style="letter-spacing:0.5px"></text>
<rect x="1216" y="520" width="51" height="12" fill="#000" />
<rect x="1216" y="521" width="51" height="10" fill="#cc0000" />
<text x="1266.2" y="529.8" text-anchor="end" font-size="9.5" font-weight="bold" font-family="Liberation Sans, sans-serif" fill="#fff" style="letter-spacing:0.5px">75.00</text>
<rect x="1216" y="553" width="51" height="12" fill="#000" />
<rect x="1216" y="554" width="51" height="10" fill="#ff9000" />
<text x="1266.2" y="562.8" text-anchor="end" font-size="9.5" font-weight="bold" font-family="Liberation Sans, sans-serif" fill="#fff" style="letter-spacing:0.5px">13.16</text>
<text x="1265" y="609.5" text-anchor="end" font-size="9.5" font-weight="bold" font-family="Liberation Sans, sans-serif" fill="#000" style="letter-spacing:0.5px">5.00</text>
<text x="1265" y="640.7" text-anchor="end" font-size="9.5" font-weight="bold" font-family="Liberation Sans, sans-serif" fill="#000" style="letter-spacing:0.5px">-5.00</text>
<rect x="1216" y="625" width="51" height="12" fill="#000" />
<rect x="1216" y="626" width="51" height="10" fill="#0000ff" />
<text x="1266.2" y="634.8" text-anchor="end" font-size="9.5" font-weight="bold" font-family="Liberation Sans, sans-serif" fill="#fff" style="letter-spacing:0.5px">-2.81</text>
<rect x="1216" y="619" width="51" height="12" fill="#000" />
<rect x="1216" y="620" width="51" height="10" fill="#ff0000" />
<text x="1266.2" y="628.8" text-anchor="end" font-size="9.5" font-weight="bold" font-family="Liberation Sans, sans-serif" fill="#fff" style="letter-spacing:0.5px">-0.81</text>
<text x="1265" y="674.9" text-anchor="end" font-size="9.5" font-weight="bold" font-family="Liberation Sans, sans-serif" fill="#000" style="letter-spacing:0.5px">100.00</text>
<text x="1265" y="725.7" text-anchor="end" font-size="9.5" font-weight="bold" font-family="Liberation Sans, sans-serif" fill="#000" style="letter-spacing:0.5px">0.00</text>
<rect x="1216" y="689" width="51" height="12" fill="#000" />
<rect x="1216" y="690" width="51" height="10" fill="#ff0000" />
<text x="1266.2" y="698.8" text-anchor="end" font-size="9.5" font-weight="bold" font-family="Liberation Sans, sans-serif" fill="#fff" style="letter-spacing:0.5px"></text>
<rect x="1216" y="686" width="51" height="12" fill="#000" />
<rect x="1216" y="687" width="51" height="10" fill="#008000" />
<text x="1266.2" y="695.8" text-anchor="end" font-size="9.5" font-weight="bold" font-family="Liberation Sans, sans-serif" fill="#fff" style="letter-spacing:0.5px">59.54</text>
<rect x="1216" y="713" width="51" height="12" fill="#000" />
<rect x="1216" y="714" width="51" height="10" fill="#0000ff" />
<text x="1266.2" y="722.8" text-anchor="end" font-size="9.5" font-weight="bold" font-family="Liberation Sans, sans-serif" fill="#fff" style="letter-spacing:0.5px">6.17</text>
<text x="1265" y="745.7" text-anchor="end" font-size="9.5" font-weight="bold" font-family="Liberation Sans, sans-serif" fill="#000" style="letter-spacing:0.5px">100.00</text>
<text x="1265" y="778.9" text-anchor="end" font-size="9.5" font-weight="bold" font-family="Liberation Sans, sans-serif" fill="#000" style="letter-spacing:0.5px">50.00</text>
<text x="1265" y="812.6" text-anchor="end" font-size="9.5" font-weight="bold" font-family="Liberation Sans, sans-serif" fill="#000" style="letter-spacing:0.5px">0.00</text>
<rect x="1216" y="754" width="51" height="12" fill="#000" />
<rect x="1216" y="755" width="51" height="10" fill="#c80000" />
<text x="1266.2" y="763.8" text-anchor="end" font-size="9.5" font-weight="bold" font-family="Liberation Sans, sans-serif" fill="#fff" style="letter-spacing:0.5px">75.00</text>
<rect x="1216" y="788" width="51" height="12" fill="#000" />
<rect x="1216" y="789" width="51" height="10" fill="#0000ff" />
<text x="1266.2" y="797.8" text-anchor="end" font-size="9.5" font-weight="bold" font-family="Liberation Sans, sans-serif" fill="#fff" style="letter-spacing:0.5px">23.18</text>
</g>
<text x="952" y="433" font-size="16.5" font-family="Liberation Sans, sans-serif" fill="#b4a4a4" shape-rendering="auto" textLength="310" lengthAdjust="spacingAndGlyphs">Портал для трейдеров - ForTrader.ru</text>
</svg>
</body></html>
